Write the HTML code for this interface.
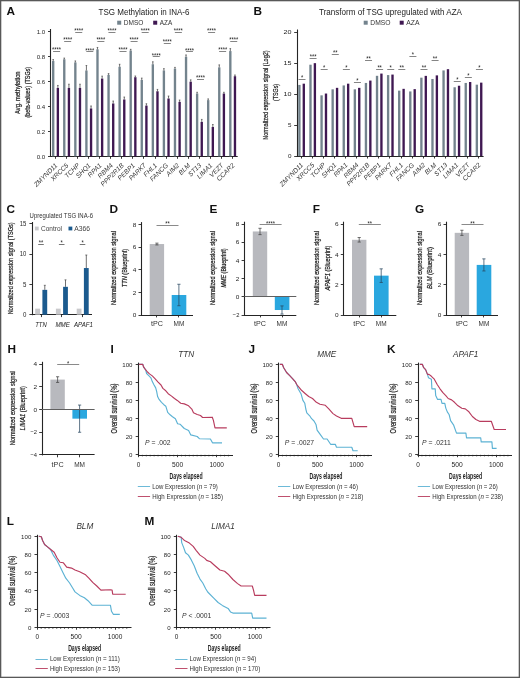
<!DOCTYPE html>
<html><head><meta charset="utf-8"><style>
html,body{margin:0;padding:0;background:#fff;}
body{width:520px;height:678px;overflow:hidden;}
svg{display:block;filter:blur(0.3px);font-family:"Liberation Sans", sans-serif;}
</style></head><body>
<svg width="520" height="678" viewBox="0 0 520 678" font-family='"Liberation Sans", sans-serif'>
<rect x="0" y="0" width="520" height="678" fill="#fff"/>
<text x="6.50" y="14.50" font-size="11.8" text-anchor="start" fill="#111" font-weight="bold" >A</text>
<text x="144.00" y="14.60" font-size="8.7" text-anchor="middle" fill="#222" textLength="91.00" lengthAdjust="spacingAndGlyphs" >TSG Methylation in INA-6</text>
<rect x="117.20" y="20.70" width="4.00" height="4.00" fill="#73838d"/>
<text x="123.80" y="25.00" font-size="6.8" text-anchor="start" fill="#333" textLength="19.60" lengthAdjust="spacingAndGlyphs" >DMSO</text>
<rect x="153.20" y="20.70" width="4.00" height="4.00" fill="#3f1852"/>
<text x="159.80" y="25.00" font-size="6.8" text-anchor="start" fill="#333" textLength="12.40" lengthAdjust="spacingAndGlyphs" >AZA</text>
<line x1="50.50" y1="29.00" x2="50.50" y2="156.90" stroke="#252525" stroke-width="1.1"/>
<line x1="50.30" y1="156.50" x2="237.70" y2="156.50" stroke="#252525" stroke-width="1.1"/>
<line x1="48.00" y1="156.50" x2="50.80" y2="156.50" stroke="#252525" stroke-width="0.9"/>
<text x="45.20" y="158.60" font-size="6.0" text-anchor="end" fill="#262626" textLength="8.50" lengthAdjust="spacingAndGlyphs" >0.0</text>
<line x1="48.00" y1="131.50" x2="50.80" y2="131.50" stroke="#252525" stroke-width="0.9"/>
<text x="45.20" y="133.70" font-size="6.0" text-anchor="end" fill="#262626" textLength="8.50" lengthAdjust="spacingAndGlyphs" >0.2</text>
<line x1="48.00" y1="106.50" x2="50.80" y2="106.50" stroke="#252525" stroke-width="0.9"/>
<text x="45.20" y="108.80" font-size="6.0" text-anchor="end" fill="#262626" textLength="8.50" lengthAdjust="spacingAndGlyphs" >0.4</text>
<line x1="48.00" y1="81.50" x2="50.80" y2="81.50" stroke="#252525" stroke-width="0.9"/>
<text x="45.20" y="83.90" font-size="6.0" text-anchor="end" fill="#262626" textLength="8.50" lengthAdjust="spacingAndGlyphs" >0.6</text>
<line x1="48.00" y1="56.50" x2="50.80" y2="56.50" stroke="#252525" stroke-width="0.9"/>
<text x="45.20" y="59.00" font-size="6.0" text-anchor="end" fill="#262626" textLength="8.50" lengthAdjust="spacingAndGlyphs" >0.8</text>
<line x1="48.00" y1="31.50" x2="50.80" y2="31.50" stroke="#252525" stroke-width="0.9"/>
<text x="45.20" y="34.10" font-size="6.0" text-anchor="end" fill="#262626" textLength="8.50" lengthAdjust="spacingAndGlyphs" >1.0</text>
<rect x="52.02" y="61.03" width="2.35" height="95.37" fill="#73838d"/>
<rect x="56.68" y="87.92" width="2.35" height="68.48" fill="#3f1852"/>
<line x1="53.20" y1="59.54" x2="53.20" y2="61.03" stroke="#333" stroke-width="0.7"/>
<line x1="52.40" y1="59.54" x2="54.00" y2="59.54" stroke="#333" stroke-width="0.6"/>
<line x1="57.85" y1="85.44" x2="57.85" y2="87.92" stroke="#333" stroke-width="0.7"/>
<line x1="57.05" y1="85.44" x2="58.65" y2="85.44" stroke="#333" stroke-width="0.6"/>
<line x1="55.50" y1="156.40" x2="55.50" y2="158.80" stroke="#252525" stroke-width="0.9"/>
<text x="56.60" y="52.40" font-size="7.4" text-anchor="middle" fill="#222" textLength="9.00" lengthAdjust="spacingAndGlyphs" >****</text>
<line x1="53.10" y1="51.50" x2="60.10" y2="51.50" stroke="#777" stroke-width="0.9"/>
<text x="57.90" y="165.80" font-size="6.6" text-anchor="end" fill="#333" font-style="italic" transform="rotate(-45 57.90 165.80)" >ZMYND11</text>
<rect x="63.09" y="59.29" width="2.35" height="97.11" fill="#73838d"/>
<rect x="67.75" y="87.92" width="2.35" height="68.48" fill="#3f1852"/>
<line x1="64.27" y1="58.05" x2="64.27" y2="59.29" stroke="#333" stroke-width="0.7"/>
<line x1="63.47" y1="58.05" x2="65.07" y2="58.05" stroke="#333" stroke-width="0.6"/>
<line x1="68.92" y1="84.19" x2="68.92" y2="87.92" stroke="#333" stroke-width="0.7"/>
<line x1="68.12" y1="84.19" x2="69.72" y2="84.19" stroke="#333" stroke-width="0.6"/>
<line x1="66.50" y1="156.40" x2="66.50" y2="158.80" stroke="#252525" stroke-width="0.9"/>
<text x="67.67" y="42.20" font-size="7.4" text-anchor="middle" fill="#222" textLength="9.00" lengthAdjust="spacingAndGlyphs" >****</text>
<line x1="64.17" y1="41.50" x2="71.17" y2="41.50" stroke="#777" stroke-width="0.9"/>
<text x="68.97" y="165.80" font-size="6.6" text-anchor="end" fill="#333" font-style="italic" transform="rotate(-45 68.97 165.80)" >XRCC5</text>
<rect x="74.16" y="62.40" width="2.35" height="94.00" fill="#73838d"/>
<rect x="78.81" y="87.92" width="2.35" height="68.48" fill="#3f1852"/>
<line x1="75.34" y1="60.91" x2="75.34" y2="62.40" stroke="#333" stroke-width="0.7"/>
<line x1="74.54" y1="60.91" x2="76.14" y2="60.91" stroke="#333" stroke-width="0.6"/>
<line x1="79.99" y1="84.19" x2="79.99" y2="87.92" stroke="#333" stroke-width="0.7"/>
<line x1="79.19" y1="84.19" x2="80.79" y2="84.19" stroke="#333" stroke-width="0.6"/>
<line x1="77.50" y1="156.40" x2="77.50" y2="158.80" stroke="#252525" stroke-width="0.9"/>
<text x="78.74" y="33.10" font-size="7.4" text-anchor="middle" fill="#222" textLength="9.00" lengthAdjust="spacingAndGlyphs" >****</text>
<line x1="75.24" y1="32.50" x2="82.24" y2="32.50" stroke="#777" stroke-width="0.9"/>
<text x="80.04" y="165.80" font-size="6.6" text-anchor="end" fill="#333" font-style="italic" transform="rotate(-45 80.04 165.80)" >TCHP</text>
<rect x="85.23" y="70.50" width="2.35" height="85.90" fill="#73838d"/>
<rect x="89.89" y="108.47" width="2.35" height="47.93" fill="#3f1852"/>
<line x1="86.41" y1="65.52" x2="86.41" y2="70.50" stroke="#333" stroke-width="0.7"/>
<line x1="85.61" y1="65.52" x2="87.21" y2="65.52" stroke="#333" stroke-width="0.6"/>
<line x1="91.06" y1="105.98" x2="91.06" y2="108.47" stroke="#333" stroke-width="0.7"/>
<line x1="90.26" y1="105.98" x2="91.86" y2="105.98" stroke="#333" stroke-width="0.6"/>
<line x1="88.50" y1="156.40" x2="88.50" y2="158.80" stroke="#252525" stroke-width="0.9"/>
<text x="89.81" y="52.50" font-size="7.4" text-anchor="middle" fill="#222" textLength="9.00" lengthAdjust="spacingAndGlyphs" >****</text>
<line x1="86.31" y1="51.50" x2="93.31" y2="51.50" stroke="#777" stroke-width="0.9"/>
<text x="91.11" y="165.80" font-size="6.6" text-anchor="end" fill="#333" font-style="italic" transform="rotate(-45 91.11 165.80)" >SHQ1</text>
<rect x="96.31" y="49.33" width="2.35" height="107.07" fill="#73838d"/>
<rect x="100.96" y="78.59" width="2.35" height="77.81" fill="#3f1852"/>
<line x1="97.48" y1="47.46" x2="97.48" y2="49.33" stroke="#333" stroke-width="0.7"/>
<line x1="96.68" y1="47.46" x2="98.28" y2="47.46" stroke="#333" stroke-width="0.6"/>
<line x1="102.13" y1="76.10" x2="102.13" y2="78.59" stroke="#333" stroke-width="0.7"/>
<line x1="101.33" y1="76.10" x2="102.93" y2="76.10" stroke="#333" stroke-width="0.6"/>
<line x1="99.50" y1="156.40" x2="99.50" y2="158.80" stroke="#252525" stroke-width="0.9"/>
<text x="100.88" y="42.20" font-size="7.4" text-anchor="middle" fill="#222" textLength="9.00" lengthAdjust="spacingAndGlyphs" >****</text>
<line x1="97.38" y1="41.50" x2="104.38" y2="41.50" stroke="#777" stroke-width="0.9"/>
<text x="102.18" y="165.80" font-size="6.6" text-anchor="end" fill="#333" font-style="italic" transform="rotate(-45 102.18 165.80)" >RPA1</text>
<rect x="107.38" y="74.85" width="2.35" height="81.55" fill="#73838d"/>
<rect x="112.03" y="103.49" width="2.35" height="52.91" fill="#3f1852"/>
<line x1="108.55" y1="73.61" x2="108.55" y2="74.85" stroke="#333" stroke-width="0.7"/>
<line x1="107.75" y1="73.61" x2="109.35" y2="73.61" stroke="#333" stroke-width="0.6"/>
<line x1="113.20" y1="101.00" x2="113.20" y2="103.49" stroke="#333" stroke-width="0.7"/>
<line x1="112.40" y1="101.00" x2="114.00" y2="101.00" stroke="#333" stroke-width="0.6"/>
<line x1="110.50" y1="156.40" x2="110.50" y2="158.80" stroke="#252525" stroke-width="0.9"/>
<text x="111.95" y="33.10" font-size="7.4" text-anchor="middle" fill="#222" textLength="9.00" lengthAdjust="spacingAndGlyphs" >****</text>
<line x1="108.45" y1="32.50" x2="115.45" y2="32.50" stroke="#777" stroke-width="0.9"/>
<text x="113.25" y="165.80" font-size="6.6" text-anchor="end" fill="#333" font-style="italic" transform="rotate(-45 113.25 165.80)" >RBM4</text>
<rect x="118.44" y="66.76" width="2.35" height="89.64" fill="#73838d"/>
<rect x="123.09" y="99.50" width="2.35" height="56.90" fill="#3f1852"/>
<line x1="119.62" y1="64.27" x2="119.62" y2="66.76" stroke="#333" stroke-width="0.7"/>
<line x1="118.82" y1="64.27" x2="120.42" y2="64.27" stroke="#333" stroke-width="0.6"/>
<line x1="124.27" y1="97.01" x2="124.27" y2="99.50" stroke="#333" stroke-width="0.7"/>
<line x1="123.47" y1="97.01" x2="125.07" y2="97.01" stroke="#333" stroke-width="0.6"/>
<line x1="121.50" y1="156.40" x2="121.50" y2="158.80" stroke="#252525" stroke-width="0.9"/>
<text x="123.02" y="52.40" font-size="7.4" text-anchor="middle" fill="#222" textLength="9.00" lengthAdjust="spacingAndGlyphs" >****</text>
<line x1="119.52" y1="51.50" x2="126.52" y2="51.50" stroke="#777" stroke-width="0.9"/>
<text x="124.32" y="165.80" font-size="6.6" text-anchor="end" fill="#333" font-style="italic" transform="rotate(-45 124.32 165.80)" >PPP2R1B</text>
<rect x="129.52" y="50.58" width="2.35" height="105.83" fill="#73838d"/>
<rect x="134.16" y="77.22" width="2.35" height="79.18" fill="#3f1852"/>
<line x1="130.69" y1="49.33" x2="130.69" y2="50.58" stroke="#333" stroke-width="0.7"/>
<line x1="129.89" y1="49.33" x2="131.49" y2="49.33" stroke="#333" stroke-width="0.6"/>
<line x1="135.34" y1="75.97" x2="135.34" y2="77.22" stroke="#333" stroke-width="0.7"/>
<line x1="134.54" y1="75.97" x2="136.14" y2="75.97" stroke="#333" stroke-width="0.6"/>
<line x1="132.50" y1="156.40" x2="132.50" y2="158.80" stroke="#252525" stroke-width="0.9"/>
<text x="134.09" y="42.20" font-size="7.4" text-anchor="middle" fill="#222" textLength="9.00" lengthAdjust="spacingAndGlyphs" >****</text>
<line x1="130.59" y1="41.50" x2="137.59" y2="41.50" stroke="#777" stroke-width="0.9"/>
<text x="135.39" y="165.80" font-size="6.6" text-anchor="end" fill="#333" font-style="italic" transform="rotate(-45 135.39 165.80)" >PEBP1</text>
<rect x="140.59" y="79.96" width="2.35" height="76.44" fill="#73838d"/>
<rect x="145.23" y="105.60" width="2.35" height="50.80" fill="#3f1852"/>
<line x1="141.76" y1="78.09" x2="141.76" y2="79.96" stroke="#333" stroke-width="0.7"/>
<line x1="140.96" y1="78.09" x2="142.56" y2="78.09" stroke="#333" stroke-width="0.6"/>
<line x1="146.41" y1="103.74" x2="146.41" y2="105.60" stroke="#333" stroke-width="0.7"/>
<line x1="145.61" y1="103.74" x2="147.21" y2="103.74" stroke="#333" stroke-width="0.6"/>
<line x1="143.50" y1="156.40" x2="143.50" y2="158.80" stroke="#252525" stroke-width="0.9"/>
<text x="145.16" y="33.10" font-size="7.4" text-anchor="middle" fill="#222" textLength="9.00" lengthAdjust="spacingAndGlyphs" >****</text>
<line x1="141.66" y1="32.50" x2="148.66" y2="32.50" stroke="#777" stroke-width="0.9"/>
<text x="146.46" y="165.80" font-size="6.6" text-anchor="end" fill="#333" font-style="italic" transform="rotate(-45 146.46 165.80)" >PARK7</text>
<rect x="151.66" y="64.27" width="2.35" height="92.13" fill="#73838d"/>
<rect x="156.30" y="91.29" width="2.35" height="65.11" fill="#3f1852"/>
<line x1="152.83" y1="61.78" x2="152.83" y2="64.27" stroke="#333" stroke-width="0.7"/>
<line x1="152.03" y1="61.78" x2="153.63" y2="61.78" stroke="#333" stroke-width="0.6"/>
<line x1="157.48" y1="89.42" x2="157.48" y2="91.29" stroke="#333" stroke-width="0.7"/>
<line x1="156.68" y1="89.42" x2="158.28" y2="89.42" stroke="#333" stroke-width="0.6"/>
<line x1="155.50" y1="156.40" x2="155.50" y2="158.80" stroke="#252525" stroke-width="0.9"/>
<text x="156.23" y="57.60" font-size="7.4" text-anchor="middle" fill="#222" textLength="9.00" lengthAdjust="spacingAndGlyphs" >****</text>
<line x1="152.73" y1="56.50" x2="159.73" y2="56.50" stroke="#777" stroke-width="0.9"/>
<text x="157.53" y="165.80" font-size="6.6" text-anchor="end" fill="#333" font-style="italic" transform="rotate(-45 157.53 165.80)" >FHL1</text>
<rect x="162.72" y="70.50" width="2.35" height="85.90" fill="#73838d"/>
<rect x="167.37" y="98.51" width="2.35" height="57.89" fill="#3f1852"/>
<line x1="163.90" y1="68.63" x2="163.90" y2="70.50" stroke="#333" stroke-width="0.7"/>
<line x1="163.10" y1="68.63" x2="164.70" y2="68.63" stroke="#333" stroke-width="0.6"/>
<line x1="168.55" y1="96.02" x2="168.55" y2="98.51" stroke="#333" stroke-width="0.7"/>
<line x1="167.75" y1="96.02" x2="169.35" y2="96.02" stroke="#333" stroke-width="0.6"/>
<line x1="166.50" y1="156.40" x2="166.50" y2="158.80" stroke="#252525" stroke-width="0.9"/>
<text x="167.30" y="44.30" font-size="7.4" text-anchor="middle" fill="#222" textLength="9.00" lengthAdjust="spacingAndGlyphs" >****</text>
<line x1="163.80" y1="43.50" x2="170.80" y2="43.50" stroke="#777" stroke-width="0.9"/>
<text x="168.60" y="165.80" font-size="6.6" text-anchor="end" fill="#333" font-style="italic" transform="rotate(-45 168.60 165.80)" >FANCG</text>
<rect x="173.80" y="68.63" width="2.35" height="87.77" fill="#73838d"/>
<rect x="178.44" y="101.87" width="2.35" height="54.53" fill="#3f1852"/>
<line x1="174.97" y1="67.38" x2="174.97" y2="68.63" stroke="#333" stroke-width="0.7"/>
<line x1="174.17" y1="67.38" x2="175.77" y2="67.38" stroke="#333" stroke-width="0.6"/>
<line x1="179.62" y1="100.00" x2="179.62" y2="101.87" stroke="#333" stroke-width="0.7"/>
<line x1="178.82" y1="100.00" x2="180.42" y2="100.00" stroke="#333" stroke-width="0.6"/>
<line x1="177.50" y1="156.40" x2="177.50" y2="158.80" stroke="#252525" stroke-width="0.9"/>
<text x="178.37" y="33.10" font-size="7.4" text-anchor="middle" fill="#222" textLength="9.00" lengthAdjust="spacingAndGlyphs" >****</text>
<line x1="174.87" y1="32.50" x2="181.87" y2="32.50" stroke="#777" stroke-width="0.9"/>
<text x="179.67" y="165.80" font-size="6.6" text-anchor="end" fill="#333" font-style="italic" transform="rotate(-45 179.67 165.80)" >AIM2</text>
<rect x="184.87" y="56.80" width="2.35" height="99.60" fill="#73838d"/>
<rect x="189.51" y="81.70" width="2.35" height="74.70" fill="#3f1852"/>
<line x1="186.04" y1="54.93" x2="186.04" y2="56.80" stroke="#333" stroke-width="0.7"/>
<line x1="185.24" y1="54.93" x2="186.84" y2="54.93" stroke="#333" stroke-width="0.6"/>
<line x1="190.69" y1="79.83" x2="190.69" y2="81.70" stroke="#333" stroke-width="0.7"/>
<line x1="189.89" y1="79.83" x2="191.49" y2="79.83" stroke="#333" stroke-width="0.6"/>
<line x1="188.50" y1="156.40" x2="188.50" y2="158.80" stroke="#252525" stroke-width="0.9"/>
<text x="189.44" y="52.60" font-size="7.4" text-anchor="middle" fill="#222" textLength="9.00" lengthAdjust="spacingAndGlyphs" >****</text>
<line x1="185.94" y1="51.50" x2="192.94" y2="51.50" stroke="#777" stroke-width="0.9"/>
<text x="190.74" y="165.80" font-size="6.6" text-anchor="end" fill="#333" font-style="italic" transform="rotate(-45 190.74 165.80)" >BLM</text>
<rect x="195.94" y="93.53" width="2.35" height="62.87" fill="#73838d"/>
<rect x="200.58" y="121.91" width="2.35" height="34.49" fill="#3f1852"/>
<line x1="197.11" y1="92.28" x2="197.11" y2="93.53" stroke="#333" stroke-width="0.7"/>
<line x1="196.31" y1="92.28" x2="197.91" y2="92.28" stroke="#333" stroke-width="0.6"/>
<line x1="201.76" y1="119.42" x2="201.76" y2="121.91" stroke="#333" stroke-width="0.7"/>
<line x1="200.96" y1="119.42" x2="202.56" y2="119.42" stroke="#333" stroke-width="0.6"/>
<line x1="199.50" y1="156.40" x2="199.50" y2="158.80" stroke="#252525" stroke-width="0.9"/>
<text x="200.51" y="80.10" font-size="7.4" text-anchor="middle" fill="#222" textLength="9.00" lengthAdjust="spacingAndGlyphs" >****</text>
<line x1="197.01" y1="79.50" x2="204.01" y2="79.50" stroke="#777" stroke-width="0.9"/>
<text x="201.81" y="165.80" font-size="6.6" text-anchor="end" fill="#333" font-style="italic" transform="rotate(-45 201.81 165.80)" >ST13</text>
<rect x="207.01" y="100.13" width="2.35" height="56.27" fill="#73838d"/>
<rect x="211.66" y="127.02" width="2.35" height="29.38" fill="#3f1852"/>
<line x1="208.18" y1="98.88" x2="208.18" y2="100.13" stroke="#333" stroke-width="0.7"/>
<line x1="207.38" y1="98.88" x2="208.98" y2="98.88" stroke="#333" stroke-width="0.6"/>
<line x1="212.83" y1="124.53" x2="212.83" y2="127.02" stroke="#333" stroke-width="0.7"/>
<line x1="212.03" y1="124.53" x2="213.63" y2="124.53" stroke="#333" stroke-width="0.6"/>
<line x1="210.50" y1="156.40" x2="210.50" y2="158.80" stroke="#252525" stroke-width="0.9"/>
<text x="211.58" y="33.10" font-size="7.4" text-anchor="middle" fill="#222" textLength="9.00" lengthAdjust="spacingAndGlyphs" >****</text>
<line x1="208.08" y1="32.50" x2="215.08" y2="32.50" stroke="#777" stroke-width="0.9"/>
<text x="212.88" y="165.80" font-size="6.6" text-anchor="end" fill="#333" font-style="italic" transform="rotate(-45 212.88 165.80)" >LIMA1</text>
<rect x="218.08" y="67.38" width="2.35" height="89.02" fill="#73838d"/>
<rect x="222.72" y="93.53" width="2.35" height="62.87" fill="#3f1852"/>
<line x1="219.25" y1="64.89" x2="219.25" y2="67.38" stroke="#333" stroke-width="0.7"/>
<line x1="218.45" y1="64.89" x2="220.05" y2="64.89" stroke="#333" stroke-width="0.6"/>
<line x1="223.90" y1="92.28" x2="223.90" y2="93.53" stroke="#333" stroke-width="0.7"/>
<line x1="223.10" y1="92.28" x2="224.70" y2="92.28" stroke="#333" stroke-width="0.6"/>
<line x1="221.50" y1="156.40" x2="221.50" y2="158.80" stroke="#252525" stroke-width="0.9"/>
<text x="222.65" y="52.40" font-size="7.4" text-anchor="middle" fill="#222" textLength="9.00" lengthAdjust="spacingAndGlyphs" >****</text>
<line x1="219.15" y1="51.50" x2="226.15" y2="51.50" stroke="#777" stroke-width="0.9"/>
<text x="223.95" y="165.80" font-size="6.6" text-anchor="end" fill="#333" font-style="italic" transform="rotate(-45 223.95 165.80)" >VEZT</text>
<rect x="229.15" y="51.07" width="2.35" height="105.33" fill="#73838d"/>
<rect x="233.79" y="76.22" width="2.35" height="80.18" fill="#3f1852"/>
<line x1="230.32" y1="48.58" x2="230.32" y2="51.07" stroke="#333" stroke-width="0.7"/>
<line x1="229.52" y1="48.58" x2="231.12" y2="48.58" stroke="#333" stroke-width="0.6"/>
<line x1="234.97" y1="74.98" x2="234.97" y2="76.22" stroke="#333" stroke-width="0.7"/>
<line x1="234.17" y1="74.98" x2="235.77" y2="74.98" stroke="#333" stroke-width="0.6"/>
<line x1="232.50" y1="156.40" x2="232.50" y2="158.80" stroke="#252525" stroke-width="0.9"/>
<text x="233.72" y="42.20" font-size="7.4" text-anchor="middle" fill="#222" textLength="9.00" lengthAdjust="spacingAndGlyphs" >****</text>
<line x1="230.22" y1="41.50" x2="237.22" y2="41.50" stroke="#777" stroke-width="0.9"/>
<text x="235.02" y="165.80" font-size="6.6" text-anchor="end" fill="#333" font-style="italic" transform="rotate(-45 235.02 165.80)" >CCAR2</text>
<text x="20.30" y="92.70" font-size="7.8" text-anchor="middle" fill="#1a1a1a" textLength="42.50" lengthAdjust="spacingAndGlyphs" transform="rotate(-90 20.30 92.70)" stroke="#1a1a1a" stroke-width="0.22">Avg. methylation</text>
<text x="30.30" y="92.20" font-size="7.8" text-anchor="middle" fill="#1a1a1a" textLength="50.80" lengthAdjust="spacingAndGlyphs" transform="rotate(-90 30.30 92.20)" stroke="#1a1a1a" stroke-width="0.22">(beta-values) (TSGs)</text>
<text x="253.60" y="14.50" font-size="11.8" text-anchor="start" fill="#111" font-weight="bold" >B</text>
<text x="390.50" y="14.60" font-size="8.7" text-anchor="middle" fill="#222" textLength="143.00" lengthAdjust="spacingAndGlyphs" >Transform of TSG upregulated with AZA</text>
<rect x="363.70" y="20.70" width="4.00" height="4.00" fill="#73838d"/>
<text x="370.30" y="25.00" font-size="6.8" text-anchor="start" fill="#333" textLength="20.20" lengthAdjust="spacingAndGlyphs" >DMSO</text>
<rect x="399.70" y="20.70" width="4.00" height="4.00" fill="#3f1852"/>
<text x="406.30" y="25.00" font-size="6.8" text-anchor="start" fill="#333" textLength="13.20" lengthAdjust="spacingAndGlyphs" >AZA</text>
<line x1="297.50" y1="29.50" x2="297.50" y2="156.60" stroke="#252525" stroke-width="1.1"/>
<line x1="296.50" y1="156.50" x2="483.60" y2="156.50" stroke="#252525" stroke-width="1.1"/>
<line x1="294.20" y1="156.50" x2="297.00" y2="156.50" stroke="#252525" stroke-width="0.9"/>
<text x="291.60" y="158.20" font-size="6" text-anchor="end" fill="#262626" textLength="3.50" lengthAdjust="spacingAndGlyphs" >0</text>
<line x1="294.20" y1="125.50" x2="297.00" y2="125.50" stroke="#252525" stroke-width="0.9"/>
<text x="291.60" y="127.20" font-size="6" text-anchor="end" fill="#262626" textLength="3.50" lengthAdjust="spacingAndGlyphs" >5</text>
<line x1="294.20" y1="94.50" x2="297.00" y2="94.50" stroke="#252525" stroke-width="0.9"/>
<text x="291.60" y="96.20" font-size="6" text-anchor="end" fill="#262626" textLength="8.00" lengthAdjust="spacingAndGlyphs" >10</text>
<line x1="294.20" y1="63.50" x2="297.00" y2="63.50" stroke="#252525" stroke-width="0.9"/>
<text x="291.60" y="65.20" font-size="6" text-anchor="end" fill="#262626" textLength="8.00" lengthAdjust="spacingAndGlyphs" >15</text>
<line x1="294.20" y1="32.50" x2="297.00" y2="32.50" stroke="#252525" stroke-width="0.9"/>
<text x="291.60" y="34.20" font-size="6" text-anchor="end" fill="#262626" textLength="8.00" lengthAdjust="spacingAndGlyphs" >20</text>
<rect x="298.22" y="84.92" width="2.35" height="71.18" fill="#73838d"/>
<rect x="302.62" y="83.68" width="2.35" height="72.42" fill="#3f1852"/>
<line x1="301.50" y1="156.10" x2="301.50" y2="158.50" stroke="#252525" stroke-width="0.9"/>
<text x="303.70" y="165.50" font-size="6.6" text-anchor="end" fill="#333" font-style="italic" transform="rotate(-45 303.70 165.50)" >ZMYND11</text>
<text x="302.00" y="79.90" font-size="7.4" text-anchor="middle" fill="#222" textLength="2.25" lengthAdjust="spacingAndGlyphs" >*</text>
<line x1="298.50" y1="79.50" x2="305.50" y2="79.50" stroke="#777" stroke-width="0.9"/>
<rect x="309.31" y="64.71" width="2.35" height="91.39" fill="#73838d"/>
<rect x="313.71" y="63.16" width="2.35" height="92.94" fill="#3f1852"/>
<line x1="312.50" y1="156.10" x2="312.50" y2="158.50" stroke="#252525" stroke-width="0.9"/>
<text x="314.79" y="165.50" font-size="6.6" text-anchor="end" fill="#333" font-style="italic" transform="rotate(-45 314.79 165.50)" >XRCC5</text>
<text x="313.09" y="59.30" font-size="7.4" text-anchor="middle" fill="#222" textLength="6.75" lengthAdjust="spacingAndGlyphs" >***</text>
<line x1="309.59" y1="58.50" x2="316.59" y2="58.50" stroke="#777" stroke-width="0.9"/>
<rect x="320.40" y="95.34" width="2.35" height="60.76" fill="#73838d"/>
<rect x="324.81" y="93.54" width="2.35" height="62.56" fill="#3f1852"/>
<line x1="323.50" y1="156.10" x2="323.50" y2="158.50" stroke="#252525" stroke-width="0.9"/>
<text x="325.88" y="165.50" font-size="6.6" text-anchor="end" fill="#333" font-style="italic" transform="rotate(-45 325.88 165.50)" >TCHP</text>
<text x="324.18" y="69.90" font-size="7.4" text-anchor="middle" fill="#222" textLength="2.25" lengthAdjust="spacingAndGlyphs" >*</text>
<line x1="320.68" y1="69.50" x2="327.68" y2="69.50" stroke="#777" stroke-width="0.9"/>
<rect x="331.49" y="89.33" width="2.35" height="66.77" fill="#73838d"/>
<rect x="335.89" y="87.84" width="2.35" height="68.26" fill="#3f1852"/>
<line x1="334.50" y1="156.10" x2="334.50" y2="158.50" stroke="#252525" stroke-width="0.9"/>
<text x="336.97" y="165.50" font-size="6.6" text-anchor="end" fill="#333" font-style="italic" transform="rotate(-45 336.97 165.50)" >SHQ1</text>
<text x="335.27" y="54.50" font-size="7.4" text-anchor="middle" fill="#222" textLength="4.50" lengthAdjust="spacingAndGlyphs" >**</text>
<line x1="331.77" y1="54.50" x2="338.77" y2="54.50" stroke="#777" stroke-width="0.9"/>
<rect x="342.58" y="85.42" width="2.35" height="70.68" fill="#73838d"/>
<rect x="346.99" y="83.68" width="2.35" height="72.42" fill="#3f1852"/>
<line x1="345.50" y1="156.10" x2="345.50" y2="158.50" stroke="#252525" stroke-width="0.9"/>
<text x="348.06" y="165.50" font-size="6.6" text-anchor="end" fill="#333" font-style="italic" transform="rotate(-45 348.06 165.50)" >RPA1</text>
<text x="346.36" y="69.90" font-size="7.4" text-anchor="middle" fill="#222" textLength="2.25" lengthAdjust="spacingAndGlyphs" >*</text>
<line x1="342.86" y1="69.50" x2="349.86" y2="69.50" stroke="#777" stroke-width="0.9"/>
<rect x="353.67" y="89.33" width="2.35" height="66.77" fill="#73838d"/>
<rect x="358.07" y="87.84" width="2.35" height="68.26" fill="#3f1852"/>
<line x1="356.50" y1="156.10" x2="356.50" y2="158.50" stroke="#252525" stroke-width="0.9"/>
<text x="359.15" y="165.50" font-size="6.6" text-anchor="end" fill="#333" font-style="italic" transform="rotate(-45 359.15 165.50)" >RBM4</text>
<text x="357.45" y="83.30" font-size="7.4" text-anchor="middle" fill="#222" textLength="2.25" lengthAdjust="spacingAndGlyphs" >*</text>
<line x1="353.95" y1="82.50" x2="360.95" y2="82.50" stroke="#777" stroke-width="0.9"/>
<rect x="364.76" y="82.94" width="2.35" height="73.16" fill="#73838d"/>
<rect x="369.17" y="80.58" width="2.35" height="75.52" fill="#3f1852"/>
<line x1="367.50" y1="156.10" x2="367.50" y2="158.50" stroke="#252525" stroke-width="0.9"/>
<text x="370.24" y="165.50" font-size="6.6" text-anchor="end" fill="#333" font-style="italic" transform="rotate(-45 370.24 165.50)" >PPP2R1B</text>
<text x="368.54" y="61.20" font-size="7.4" text-anchor="middle" fill="#222" textLength="4.50" lengthAdjust="spacingAndGlyphs" >**</text>
<line x1="365.04" y1="60.50" x2="372.04" y2="60.50" stroke="#777" stroke-width="0.9"/>
<rect x="375.85" y="75.81" width="2.35" height="80.29" fill="#73838d"/>
<rect x="380.25" y="73.58" width="2.35" height="82.52" fill="#3f1852"/>
<line x1="378.50" y1="156.10" x2="378.50" y2="158.50" stroke="#252525" stroke-width="0.9"/>
<text x="381.33" y="165.50" font-size="6.6" text-anchor="end" fill="#333" font-style="italic" transform="rotate(-45 381.33 165.50)" >PEBP1</text>
<text x="379.63" y="69.90" font-size="7.4" text-anchor="middle" fill="#222" textLength="4.50" lengthAdjust="spacingAndGlyphs" >**</text>
<line x1="376.13" y1="69.50" x2="383.13" y2="69.50" stroke="#777" stroke-width="0.9"/>
<rect x="386.94" y="75.07" width="2.35" height="81.03" fill="#73838d"/>
<rect x="391.34" y="74.57" width="2.35" height="81.53" fill="#3f1852"/>
<line x1="389.50" y1="156.10" x2="389.50" y2="158.50" stroke="#252525" stroke-width="0.9"/>
<text x="392.42" y="165.50" font-size="6.6" text-anchor="end" fill="#333" font-style="italic" transform="rotate(-45 392.42 165.50)" >PARK7</text>
<text x="390.72" y="69.90" font-size="7.4" text-anchor="middle" fill="#222" textLength="2.25" lengthAdjust="spacingAndGlyphs" >*</text>
<line x1="387.22" y1="69.50" x2="394.22" y2="69.50" stroke="#777" stroke-width="0.9"/>
<rect x="398.03" y="90.63" width="2.35" height="65.47" fill="#73838d"/>
<rect x="402.44" y="88.83" width="2.35" height="67.27" fill="#3f1852"/>
<line x1="401.50" y1="156.10" x2="401.50" y2="158.50" stroke="#252525" stroke-width="0.9"/>
<text x="403.51" y="165.50" font-size="6.6" text-anchor="end" fill="#333" font-style="italic" transform="rotate(-45 403.51 165.50)" >FHL1</text>
<text x="401.81" y="69.90" font-size="7.4" text-anchor="middle" fill="#222" textLength="4.50" lengthAdjust="spacingAndGlyphs" >**</text>
<line x1="398.31" y1="69.50" x2="405.31" y2="69.50" stroke="#777" stroke-width="0.9"/>
<rect x="409.12" y="91.43" width="2.35" height="64.67" fill="#73838d"/>
<rect x="413.53" y="89.14" width="2.35" height="66.96" fill="#3f1852"/>
<line x1="412.50" y1="156.10" x2="412.50" y2="158.50" stroke="#252525" stroke-width="0.9"/>
<text x="414.60" y="165.50" font-size="6.6" text-anchor="end" fill="#333" font-style="italic" transform="rotate(-45 414.60 165.50)" >FANCG</text>
<text x="412.90" y="57.40" font-size="7.4" text-anchor="middle" fill="#222" textLength="2.25" lengthAdjust="spacingAndGlyphs" >*</text>
<line x1="409.40" y1="56.50" x2="416.40" y2="56.50" stroke="#777" stroke-width="0.9"/>
<rect x="420.21" y="77.67" width="2.35" height="78.43" fill="#73838d"/>
<rect x="424.62" y="75.87" width="2.35" height="80.23" fill="#3f1852"/>
<line x1="423.50" y1="156.10" x2="423.50" y2="158.50" stroke="#252525" stroke-width="0.9"/>
<text x="425.69" y="165.50" font-size="6.6" text-anchor="end" fill="#333" font-style="italic" transform="rotate(-45 425.69 165.50)" >AIM2</text>
<text x="423.99" y="69.90" font-size="7.4" text-anchor="middle" fill="#222" textLength="4.50" lengthAdjust="spacingAndGlyphs" >**</text>
<line x1="420.49" y1="69.50" x2="427.49" y2="69.50" stroke="#777" stroke-width="0.9"/>
<rect x="431.30" y="78.97" width="2.35" height="77.13" fill="#73838d"/>
<rect x="435.70" y="75.38" width="2.35" height="80.72" fill="#3f1852"/>
<line x1="434.50" y1="156.10" x2="434.50" y2="158.50" stroke="#252525" stroke-width="0.9"/>
<text x="436.78" y="165.50" font-size="6.6" text-anchor="end" fill="#333" font-style="italic" transform="rotate(-45 436.78 165.50)" >BLM</text>
<text x="435.08" y="61.20" font-size="7.4" text-anchor="middle" fill="#222" textLength="4.50" lengthAdjust="spacingAndGlyphs" >**</text>
<line x1="431.58" y1="60.50" x2="438.58" y2="60.50" stroke="#777" stroke-width="0.9"/>
<rect x="442.39" y="70.42" width="2.35" height="85.68" fill="#73838d"/>
<rect x="446.80" y="69.18" width="2.35" height="86.92" fill="#3f1852"/>
<line x1="445.50" y1="156.10" x2="445.50" y2="158.50" stroke="#252525" stroke-width="0.9"/>
<text x="447.87" y="165.50" font-size="6.6" text-anchor="end" fill="#333" font-style="italic" transform="rotate(-45 447.87 165.50)" >ST13</text>
<rect x="453.48" y="87.28" width="2.35" height="68.82" fill="#73838d"/>
<rect x="457.88" y="85.73" width="2.35" height="70.37" fill="#3f1852"/>
<line x1="456.50" y1="156.10" x2="456.50" y2="158.50" stroke="#252525" stroke-width="0.9"/>
<text x="458.96" y="165.50" font-size="6.6" text-anchor="end" fill="#333" font-style="italic" transform="rotate(-45 458.96 165.50)" >LIMA1</text>
<text x="457.26" y="81.80" font-size="7.4" text-anchor="middle" fill="#222" textLength="2.25" lengthAdjust="spacingAndGlyphs" >*</text>
<line x1="453.76" y1="81.50" x2="460.76" y2="81.50" stroke="#777" stroke-width="0.9"/>
<rect x="464.57" y="82.94" width="2.35" height="73.16" fill="#73838d"/>
<rect x="468.97" y="82.01" width="2.35" height="74.09" fill="#3f1852"/>
<line x1="467.50" y1="156.10" x2="467.50" y2="158.50" stroke="#252525" stroke-width="0.9"/>
<text x="470.05" y="165.50" font-size="6.6" text-anchor="end" fill="#333" font-style="italic" transform="rotate(-45 470.05 165.50)" >VEZT</text>
<text x="468.35" y="77.60" font-size="7.4" text-anchor="middle" fill="#222" textLength="2.25" lengthAdjust="spacingAndGlyphs" >*</text>
<line x1="464.85" y1="77.50" x2="471.85" y2="77.50" stroke="#777" stroke-width="0.9"/>
<rect x="475.66" y="84.68" width="2.35" height="71.42" fill="#73838d"/>
<rect x="480.06" y="82.63" width="2.35" height="73.47" fill="#3f1852"/>
<line x1="478.50" y1="156.10" x2="478.50" y2="158.50" stroke="#252525" stroke-width="0.9"/>
<text x="481.14" y="165.50" font-size="6.6" text-anchor="end" fill="#333" font-style="italic" transform="rotate(-45 481.14 165.50)" >CCAR2</text>
<text x="479.44" y="69.90" font-size="7.4" text-anchor="middle" fill="#222" textLength="2.25" lengthAdjust="spacingAndGlyphs" >*</text>
<line x1="475.94" y1="69.50" x2="482.94" y2="69.50" stroke="#777" stroke-width="0.9"/>
<text x="268.10" y="95.10" font-size="7.8" text-anchor="middle" fill="#1a1a1a" textLength="89.50" lengthAdjust="spacingAndGlyphs" transform="rotate(-90 268.10 95.10)" stroke="#1a1a1a" stroke-width="0.22">Normalized expression signal (Log2)</text>
<text x="277.80" y="92.40" font-size="7.8" text-anchor="middle" fill="#1a1a1a" textLength="17.00" lengthAdjust="spacingAndGlyphs" transform="rotate(-90 277.80 92.40)" stroke="#1a1a1a" stroke-width="0.22">(TSGs)</text>
<text x="6.50" y="212.90" font-size="11.8" text-anchor="start" fill="#111" font-weight="bold" >C</text>
<text x="61.30" y="217.80" font-size="6.8" text-anchor="middle" fill="#333" textLength="63.40" lengthAdjust="spacingAndGlyphs" >Upregulated TSG INA-6</text>
<rect x="34.90" y="226.60" width="3.80" height="3.80" fill="#c9c9cc"/>
<text x="41.00" y="230.60" font-size="6.6" text-anchor="start" fill="#444" textLength="21.00" lengthAdjust="spacingAndGlyphs" >Control</text>
<rect x="68.50" y="226.60" width="3.80" height="3.80" fill="#1b5a8e"/>
<text x="74.20" y="230.60" font-size="6.6" text-anchor="start" fill="#444" textLength="15.80" lengthAdjust="spacingAndGlyphs" >A366</text>
<line x1="32.50" y1="222.00" x2="32.50" y2="315.20" stroke="#252525" stroke-width="1.1"/>
<line x1="31.70" y1="314.50" x2="92.00" y2="314.50" stroke="#252525" stroke-width="1.1"/>
<line x1="29.40" y1="314.50" x2="32.20" y2="314.50" stroke="#252525" stroke-width="0.9"/>
<text x="26.40" y="316.90" font-size="6.4" text-anchor="end" fill="#262626" textLength="3.40" lengthAdjust="spacingAndGlyphs" >0</text>
<line x1="29.40" y1="284.50" x2="32.20" y2="284.50" stroke="#252525" stroke-width="0.9"/>
<text x="26.40" y="286.60" font-size="6.4" text-anchor="end" fill="#262626" textLength="3.40" lengthAdjust="spacingAndGlyphs" >5</text>
<line x1="29.40" y1="254.50" x2="32.20" y2="254.50" stroke="#252525" stroke-width="0.9"/>
<text x="26.40" y="256.30" font-size="6.4" text-anchor="end" fill="#262626" textLength="6.60" lengthAdjust="spacingAndGlyphs" >10</text>
<line x1="29.40" y1="223.50" x2="32.20" y2="223.50" stroke="#252525" stroke-width="0.9"/>
<text x="26.40" y="226.00" font-size="6.4" text-anchor="end" fill="#262626" textLength="6.60" lengthAdjust="spacingAndGlyphs" >15</text>
<rect x="35.20" y="308.64" width="4.80" height="6.06" fill="#c9c9cc"/>
<rect x="42.40" y="289.85" width="4.80" height="24.85" fill="#1b5a8e"/>
<line x1="44.80" y1="285.31" x2="44.80" y2="289.85" stroke="#333" stroke-width="0.7"/>
<line x1="43.80" y1="285.31" x2="45.80" y2="285.31" stroke="#333" stroke-width="0.6"/>
<line x1="41.50" y1="314.70" x2="41.50" y2="317.10" stroke="#252525" stroke-width="0.9"/>
<text x="41.00" y="244.70" font-size="7.4" text-anchor="middle" fill="#222" textLength="4.50" lengthAdjust="spacingAndGlyphs" >**</text>
<line x1="38.20" y1="244.50" x2="43.80" y2="244.50" stroke="#666" stroke-width="0.9"/>
<rect x="55.90" y="308.64" width="4.80" height="6.06" fill="#c9c9cc"/>
<rect x="63.10" y="286.82" width="4.80" height="27.88" fill="#1b5a8e"/>
<line x1="65.50" y1="279.85" x2="65.50" y2="286.82" stroke="#333" stroke-width="0.7"/>
<line x1="64.50" y1="279.85" x2="66.50" y2="279.85" stroke="#333" stroke-width="0.6"/>
<line x1="61.50" y1="314.70" x2="61.50" y2="317.10" stroke="#252525" stroke-width="0.9"/>
<text x="61.70" y="244.70" font-size="7.4" text-anchor="middle" fill="#222" textLength="2.25" lengthAdjust="spacingAndGlyphs" >*</text>
<line x1="58.90" y1="244.50" x2="64.50" y2="244.50" stroke="#666" stroke-width="0.9"/>
<rect x="76.70" y="308.64" width="4.80" height="6.06" fill="#c9c9cc"/>
<rect x="83.90" y="268.04" width="4.80" height="46.66" fill="#1b5a8e"/>
<line x1="86.30" y1="255.01" x2="86.30" y2="268.04" stroke="#333" stroke-width="0.7"/>
<line x1="85.30" y1="255.01" x2="87.30" y2="255.01" stroke="#333" stroke-width="0.6"/>
<line x1="82.50" y1="314.70" x2="82.50" y2="317.10" stroke="#252525" stroke-width="0.9"/>
<text x="82.50" y="244.70" font-size="7.4" text-anchor="middle" fill="#222" textLength="2.25" lengthAdjust="spacingAndGlyphs" >*</text>
<line x1="79.70" y1="244.50" x2="85.30" y2="244.50" stroke="#666" stroke-width="0.9"/>
<text x="41.00" y="326.60" font-size="6.6" text-anchor="middle" fill="#222" font-style="italic" textLength="11.50" lengthAdjust="spacingAndGlyphs" >TTN</text>
<text x="62.70" y="326.60" font-size="6.6" text-anchor="middle" fill="#222" font-style="italic" textLength="14.60" lengthAdjust="spacingAndGlyphs" >MME</text>
<text x="83.50" y="326.60" font-size="6.6" text-anchor="middle" fill="#222" font-style="italic" textLength="19.00" lengthAdjust="spacingAndGlyphs" >APAF1</text>
<text x="13.20" y="268.30" font-size="7.8" text-anchor="middle" fill="#1a1a1a" textLength="92.00" lengthAdjust="spacingAndGlyphs" transform="rotate(-90 13.20 268.30)" stroke="#1a1a1a" stroke-width="0.22">Normalized expression signal (TSGs)</text>
<text x="109.50" y="212.90" font-size="11.8" text-anchor="start" fill="#111" font-weight="bold" >D</text>
<line x1="141.50" y1="222.10" x2="141.50" y2="315.50" stroke="#252525" stroke-width="1.1"/>
<line x1="140.80" y1="315.50" x2="193.00" y2="315.50" stroke="#252525" stroke-width="1.1"/>
<line x1="138.50" y1="315.50" x2="141.30" y2="315.50" stroke="#252525" stroke-width="0.9"/>
<text x="136.30" y="317.10" font-size="6.2" text-anchor="end" fill="#262626" textLength="3.60" lengthAdjust="spacingAndGlyphs" >0</text>
<line x1="138.50" y1="292.50" x2="141.30" y2="292.50" stroke="#252525" stroke-width="0.9"/>
<text x="136.30" y="294.50" font-size="6.2" text-anchor="end" fill="#262626" textLength="3.60" lengthAdjust="spacingAndGlyphs" >2</text>
<line x1="138.50" y1="269.50" x2="141.30" y2="269.50" stroke="#252525" stroke-width="0.9"/>
<text x="136.30" y="271.90" font-size="6.2" text-anchor="end" fill="#262626" textLength="3.60" lengthAdjust="spacingAndGlyphs" >4</text>
<line x1="138.50" y1="247.50" x2="141.30" y2="247.50" stroke="#252525" stroke-width="0.9"/>
<text x="136.30" y="249.30" font-size="6.2" text-anchor="end" fill="#262626" textLength="3.60" lengthAdjust="spacingAndGlyphs" >6</text>
<line x1="138.50" y1="224.50" x2="141.30" y2="224.50" stroke="#252525" stroke-width="0.9"/>
<text x="136.30" y="226.70" font-size="6.2" text-anchor="end" fill="#262626" textLength="3.60" lengthAdjust="spacingAndGlyphs" >8</text>
<rect x="149.70" y="244.04" width="14.40" height="70.96" fill="#b8b9be"/>
<rect x="171.70" y="295.00" width="14.60" height="20.00" fill="#2aa7df"/>
<line x1="156.90" y1="243.13" x2="156.90" y2="244.94" stroke="#444" stroke-width="0.75"/>
<line x1="155.30" y1="243.13" x2="158.50" y2="243.13" stroke="#444" stroke-width="0.75"/>
<line x1="155.30" y1="244.94" x2="158.50" y2="244.94" stroke="#444" stroke-width="0.75"/>
<line x1="178.90" y1="284.26" x2="178.90" y2="305.73" stroke="#2a4860" stroke-width="0.75"/>
<line x1="177.30" y1="284.26" x2="180.50" y2="284.26" stroke="#2a4860" stroke-width="0.75"/>
<line x1="177.30" y1="305.73" x2="180.50" y2="305.73" stroke="#2a4860" stroke-width="0.75"/>
<line x1="156.50" y1="315.00" x2="156.50" y2="317.40" stroke="#252525" stroke-width="0.9"/>
<line x1="178.50" y1="315.00" x2="178.50" y2="317.40" stroke="#252525" stroke-width="0.9"/>
<text x="156.90" y="326.40" font-size="6.8" text-anchor="middle" fill="#333" textLength="12.00" lengthAdjust="spacingAndGlyphs" >tPC</text>
<text x="178.90" y="326.40" font-size="6.8" text-anchor="middle" fill="#333" textLength="10.80" lengthAdjust="spacingAndGlyphs" >MM</text>
<line x1="156.50" y1="225.50" x2="178.50" y2="225.50" stroke="#8a8a8a" stroke-width="1.0"/>
<text x="167.50" y="225.90" font-size="7.4" text-anchor="middle" fill="#222" textLength="4.50" lengthAdjust="spacingAndGlyphs" >**</text>
<text x="115.80" y="268.00" font-size="7.8" text-anchor="middle" fill="#1a1a1a" textLength="74.00" lengthAdjust="spacingAndGlyphs" transform="rotate(-90 115.80 268.00)" stroke="#1a1a1a" stroke-width="0.22">Normalized expression signal</text>
<text x="126.90" y="268.00" font-size="7.8" text-anchor="middle" fill="#1a1a1a" font-weight="normal" transform="rotate(-90 126.90 268.00)" textLength="38.4" lengthAdjust="spacingAndGlyphs" stroke="#1a1a1a" stroke-width="0.22"><tspan font-style="italic">TTN</tspan> (Blueprint)</text>
<text x="209.50" y="212.90" font-size="11.8" text-anchor="start" fill="#111" font-weight="bold" >E</text>
<line x1="244.50" y1="221.70" x2="244.50" y2="315.50" stroke="#252525" stroke-width="1.1"/>
<line x1="243.90" y1="315.50" x2="296.30" y2="315.50" stroke="#252525" stroke-width="1.1"/>
<line x1="241.60" y1="315.50" x2="244.40" y2="315.50" stroke="#252525" stroke-width="0.9"/>
<text x="239.40" y="317.10" font-size="6.2" text-anchor="end" fill="#262626" textLength="6.60" lengthAdjust="spacingAndGlyphs" >−2</text>
<line x1="241.60" y1="296.50" x2="244.40" y2="296.50" stroke="#252525" stroke-width="0.9"/>
<text x="239.40" y="298.94" font-size="6.2" text-anchor="end" fill="#262626" textLength="3.60" lengthAdjust="spacingAndGlyphs" >0</text>
<line x1="241.60" y1="278.50" x2="244.40" y2="278.50" stroke="#252525" stroke-width="0.9"/>
<text x="239.40" y="280.78" font-size="6.2" text-anchor="end" fill="#262626" textLength="3.60" lengthAdjust="spacingAndGlyphs" >2</text>
<line x1="241.60" y1="260.50" x2="244.40" y2="260.50" stroke="#252525" stroke-width="0.9"/>
<text x="239.40" y="262.62" font-size="6.2" text-anchor="end" fill="#262626" textLength="3.60" lengthAdjust="spacingAndGlyphs" >4</text>
<line x1="241.60" y1="242.50" x2="244.40" y2="242.50" stroke="#252525" stroke-width="0.9"/>
<text x="239.40" y="244.46" font-size="6.2" text-anchor="end" fill="#262626" textLength="3.60" lengthAdjust="spacingAndGlyphs" >6</text>
<line x1="241.60" y1="224.50" x2="244.40" y2="224.50" stroke="#252525" stroke-width="0.9"/>
<text x="239.40" y="226.30" font-size="6.2" text-anchor="end" fill="#262626" textLength="3.60" lengthAdjust="spacingAndGlyphs" >8</text>
<rect x="252.80" y="231.46" width="14.40" height="65.38" fill="#b8b9be"/>
<rect x="274.80" y="296.84" width="14.60" height="13.17" fill="#2aa7df"/>
<line x1="260.00" y1="228.29" x2="260.00" y2="234.64" stroke="#444" stroke-width="0.75"/>
<line x1="258.40" y1="228.29" x2="261.60" y2="228.29" stroke="#444" stroke-width="0.75"/>
<line x1="258.40" y1="234.64" x2="261.60" y2="234.64" stroke="#444" stroke-width="0.75"/>
<line x1="282.00" y1="305.92" x2="282.00" y2="314.09" stroke="#2a4860" stroke-width="0.75"/>
<line x1="280.40" y1="305.92" x2="283.60" y2="305.92" stroke="#2a4860" stroke-width="0.75"/>
<line x1="280.40" y1="314.09" x2="283.60" y2="314.09" stroke="#2a4860" stroke-width="0.75"/>
<line x1="244.40" y1="296.50" x2="296.30" y2="296.50" stroke="#606060" stroke-width="1.2"/>
<line x1="260.50" y1="315.00" x2="260.50" y2="317.40" stroke="#252525" stroke-width="0.9"/>
<line x1="282.50" y1="315.00" x2="282.50" y2="317.40" stroke="#252525" stroke-width="0.9"/>
<text x="260.00" y="326.40" font-size="6.8" text-anchor="middle" fill="#333" textLength="12.00" lengthAdjust="spacingAndGlyphs" >tPC</text>
<text x="282.00" y="326.40" font-size="6.8" text-anchor="middle" fill="#333" textLength="10.80" lengthAdjust="spacingAndGlyphs" >MM</text>
<line x1="259.60" y1="224.50" x2="281.60" y2="224.50" stroke="#8a8a8a" stroke-width="1.0"/>
<text x="270.60" y="225.50" font-size="7.4" text-anchor="middle" fill="#222" textLength="9.00" lengthAdjust="spacingAndGlyphs" >****</text>
<text x="215.00" y="268.00" font-size="7.8" text-anchor="middle" fill="#1a1a1a" textLength="74.00" lengthAdjust="spacingAndGlyphs" transform="rotate(-90 215.00 268.00)" stroke="#1a1a1a" stroke-width="0.22">Normalized expression signal</text>
<text x="226.10" y="268.00" font-size="7.8" text-anchor="middle" fill="#1a1a1a" font-weight="normal" transform="rotate(-90 226.10 268.00)" textLength="39" lengthAdjust="spacingAndGlyphs" stroke="#1a1a1a" stroke-width="0.22"><tspan font-style="italic">MME</tspan> (Blueprint)</text>
<text x="312.70" y="212.90" font-size="11.8" text-anchor="start" fill="#111" font-weight="bold" >F</text>
<line x1="343.50" y1="221.70" x2="343.50" y2="315.50" stroke="#252525" stroke-width="1.1"/>
<line x1="343.10" y1="315.50" x2="396.30" y2="315.50" stroke="#252525" stroke-width="1.1"/>
<line x1="340.80" y1="315.50" x2="343.60" y2="315.50" stroke="#252525" stroke-width="0.9"/>
<text x="338.60" y="317.10" font-size="6.2" text-anchor="end" fill="#262626" textLength="3.60" lengthAdjust="spacingAndGlyphs" >0</text>
<line x1="340.80" y1="284.50" x2="343.60" y2="284.50" stroke="#252525" stroke-width="0.9"/>
<text x="338.60" y="286.83" font-size="6.2" text-anchor="end" fill="#262626" textLength="3.60" lengthAdjust="spacingAndGlyphs" >2</text>
<line x1="340.80" y1="254.50" x2="343.60" y2="254.50" stroke="#252525" stroke-width="0.9"/>
<text x="338.60" y="256.57" font-size="6.2" text-anchor="end" fill="#262626" textLength="3.60" lengthAdjust="spacingAndGlyphs" >4</text>
<line x1="340.80" y1="224.50" x2="343.60" y2="224.50" stroke="#252525" stroke-width="0.9"/>
<text x="338.60" y="226.30" font-size="6.2" text-anchor="end" fill="#262626" textLength="3.60" lengthAdjust="spacingAndGlyphs" >6</text>
<rect x="352.00" y="239.79" width="14.40" height="75.21" fill="#b8b9be"/>
<rect x="374.00" y="275.65" width="14.60" height="39.35" fill="#2aa7df"/>
<line x1="359.20" y1="237.52" x2="359.20" y2="242.06" stroke="#444" stroke-width="0.75"/>
<line x1="357.60" y1="237.52" x2="360.80" y2="237.52" stroke="#444" stroke-width="0.75"/>
<line x1="357.60" y1="242.06" x2="360.80" y2="242.06" stroke="#444" stroke-width="0.75"/>
<line x1="381.20" y1="268.84" x2="381.20" y2="282.46" stroke="#2a4860" stroke-width="0.75"/>
<line x1="379.60" y1="268.84" x2="382.80" y2="268.84" stroke="#2a4860" stroke-width="0.75"/>
<line x1="379.60" y1="282.46" x2="382.80" y2="282.46" stroke="#2a4860" stroke-width="0.75"/>
<line x1="359.50" y1="315.00" x2="359.50" y2="317.40" stroke="#252525" stroke-width="0.9"/>
<line x1="381.50" y1="315.00" x2="381.50" y2="317.40" stroke="#252525" stroke-width="0.9"/>
<text x="359.20" y="326.40" font-size="6.8" text-anchor="middle" fill="#333" textLength="12.00" lengthAdjust="spacingAndGlyphs" >tPC</text>
<text x="381.20" y="326.40" font-size="6.8" text-anchor="middle" fill="#333" textLength="10.80" lengthAdjust="spacingAndGlyphs" >MM</text>
<line x1="358.80" y1="224.50" x2="380.80" y2="224.50" stroke="#8a8a8a" stroke-width="1.0"/>
<text x="369.80" y="225.50" font-size="7.4" text-anchor="middle" fill="#222" textLength="4.50" lengthAdjust="spacingAndGlyphs" >**</text>
<text x="318.80" y="268.00" font-size="7.8" text-anchor="middle" fill="#1a1a1a" textLength="74.00" lengthAdjust="spacingAndGlyphs" transform="rotate(-90 318.80 268.00)" stroke="#1a1a1a" stroke-width="0.22">Normalized expression signal</text>
<text x="330.00" y="268.00" font-size="7.8" text-anchor="middle" fill="#1a1a1a" font-weight="normal" transform="rotate(-90 330.00 268.00)" textLength="45" lengthAdjust="spacingAndGlyphs" stroke="#1a1a1a" stroke-width="0.22"><tspan font-style="italic">APAF1</tspan> (Blueprint)</text>
<text x="415.00" y="212.90" font-size="11.8" text-anchor="start" fill="#111" font-weight="bold" >G</text>
<line x1="446.50" y1="221.70" x2="446.50" y2="315.50" stroke="#252525" stroke-width="1.1"/>
<line x1="445.80" y1="315.50" x2="498.00" y2="315.50" stroke="#252525" stroke-width="1.1"/>
<line x1="443.50" y1="315.50" x2="446.30" y2="315.50" stroke="#252525" stroke-width="0.9"/>
<text x="441.30" y="317.10" font-size="6.2" text-anchor="end" fill="#262626" textLength="3.60" lengthAdjust="spacingAndGlyphs" >0</text>
<line x1="443.50" y1="284.50" x2="446.30" y2="284.50" stroke="#252525" stroke-width="0.9"/>
<text x="441.30" y="286.83" font-size="6.2" text-anchor="end" fill="#262626" textLength="3.60" lengthAdjust="spacingAndGlyphs" >2</text>
<line x1="443.50" y1="254.50" x2="446.30" y2="254.50" stroke="#252525" stroke-width="0.9"/>
<text x="441.30" y="256.57" font-size="6.2" text-anchor="end" fill="#262626" textLength="3.60" lengthAdjust="spacingAndGlyphs" >4</text>
<line x1="443.50" y1="224.50" x2="446.30" y2="224.50" stroke="#252525" stroke-width="0.9"/>
<text x="441.30" y="226.30" font-size="6.2" text-anchor="end" fill="#262626" textLength="3.60" lengthAdjust="spacingAndGlyphs" >6</text>
<rect x="454.70" y="232.83" width="14.40" height="82.17" fill="#b8b9be"/>
<rect x="476.70" y="264.91" width="14.60" height="50.09" fill="#2aa7df"/>
<line x1="461.90" y1="230.25" x2="461.90" y2="235.40" stroke="#444" stroke-width="0.75"/>
<line x1="460.30" y1="230.25" x2="463.50" y2="230.25" stroke="#444" stroke-width="0.75"/>
<line x1="460.30" y1="235.40" x2="463.50" y2="235.40" stroke="#444" stroke-width="0.75"/>
<line x1="483.90" y1="258.86" x2="483.90" y2="270.96" stroke="#2a4860" stroke-width="0.75"/>
<line x1="482.30" y1="258.86" x2="485.50" y2="258.86" stroke="#2a4860" stroke-width="0.75"/>
<line x1="482.30" y1="270.96" x2="485.50" y2="270.96" stroke="#2a4860" stroke-width="0.75"/>
<line x1="461.50" y1="315.00" x2="461.50" y2="317.40" stroke="#252525" stroke-width="0.9"/>
<line x1="483.50" y1="315.00" x2="483.50" y2="317.40" stroke="#252525" stroke-width="0.9"/>
<text x="461.90" y="326.40" font-size="6.8" text-anchor="middle" fill="#333" textLength="12.00" lengthAdjust="spacingAndGlyphs" >tPC</text>
<text x="483.90" y="326.40" font-size="6.8" text-anchor="middle" fill="#333" textLength="10.80" lengthAdjust="spacingAndGlyphs" >MM</text>
<line x1="461.50" y1="224.50" x2="483.50" y2="224.50" stroke="#8a8a8a" stroke-width="1.0"/>
<text x="472.50" y="225.50" font-size="7.4" text-anchor="middle" fill="#222" textLength="4.50" lengthAdjust="spacingAndGlyphs" >**</text>
<text x="421.50" y="268.00" font-size="7.8" text-anchor="middle" fill="#1a1a1a" textLength="74.00" lengthAdjust="spacingAndGlyphs" transform="rotate(-90 421.50 268.00)" stroke="#1a1a1a" stroke-width="0.22">Normalized expression signal</text>
<text x="432.20" y="268.00" font-size="7.8" text-anchor="middle" fill="#1a1a1a" font-weight="normal" transform="rotate(-90 432.20 268.00)" textLength="42" lengthAdjust="spacingAndGlyphs" stroke="#1a1a1a" stroke-width="0.22"><tspan font-style="italic">BLM</tspan> (Blueprint)</text>
<text x="7.40" y="352.50" font-size="11.8" text-anchor="start" fill="#111" font-weight="bold" >H</text>
<line x1="42.50" y1="361.80" x2="42.50" y2="455.40" stroke="#252525" stroke-width="1.1"/>
<line x1="41.50" y1="454.50" x2="94.60" y2="454.50" stroke="#252525" stroke-width="1.1"/>
<line x1="39.20" y1="454.50" x2="42.00" y2="454.50" stroke="#252525" stroke-width="0.9"/>
<text x="37.00" y="457.00" font-size="6.2" text-anchor="end" fill="#262626" textLength="6.60" lengthAdjust="spacingAndGlyphs" >−4</text>
<line x1="39.20" y1="432.50" x2="42.00" y2="432.50" stroke="#252525" stroke-width="0.9"/>
<text x="37.00" y="434.35" font-size="6.2" text-anchor="end" fill="#262626" textLength="6.60" lengthAdjust="spacingAndGlyphs" >−2</text>
<line x1="39.20" y1="409.50" x2="42.00" y2="409.50" stroke="#252525" stroke-width="0.9"/>
<text x="37.00" y="411.70" font-size="6.2" text-anchor="end" fill="#262626" textLength="3.60" lengthAdjust="spacingAndGlyphs" >0</text>
<line x1="39.20" y1="386.50" x2="42.00" y2="386.50" stroke="#252525" stroke-width="0.9"/>
<text x="37.00" y="389.05" font-size="6.2" text-anchor="end" fill="#262626" textLength="3.60" lengthAdjust="spacingAndGlyphs" >2</text>
<line x1="39.20" y1="364.50" x2="42.00" y2="364.50" stroke="#252525" stroke-width="0.9"/>
<text x="37.00" y="366.40" font-size="6.2" text-anchor="end" fill="#262626" textLength="3.60" lengthAdjust="spacingAndGlyphs" >4</text>
<rect x="50.40" y="379.59" width="14.40" height="30.01" fill="#b8b9be"/>
<rect x="72.40" y="409.60" width="14.60" height="9.06" fill="#2aa7df"/>
<line x1="57.60" y1="376.76" x2="57.60" y2="382.42" stroke="#444" stroke-width="0.75"/>
<line x1="56.00" y1="376.76" x2="59.20" y2="376.76" stroke="#444" stroke-width="0.75"/>
<line x1="56.00" y1="382.42" x2="59.20" y2="382.42" stroke="#444" stroke-width="0.75"/>
<line x1="79.60" y1="405.07" x2="79.60" y2="432.25" stroke="#2a4860" stroke-width="0.75"/>
<line x1="78.00" y1="405.07" x2="81.20" y2="405.07" stroke="#2a4860" stroke-width="0.75"/>
<line x1="78.00" y1="432.25" x2="81.20" y2="432.25" stroke="#2a4860" stroke-width="0.75"/>
<line x1="42.00" y1="409.50" x2="94.60" y2="409.50" stroke="#606060" stroke-width="1.2"/>
<line x1="57.50" y1="454.90" x2="57.50" y2="457.30" stroke="#252525" stroke-width="0.9"/>
<line x1="79.50" y1="454.90" x2="79.50" y2="457.30" stroke="#252525" stroke-width="0.9"/>
<text x="57.60" y="467.40" font-size="6.8" text-anchor="middle" fill="#333" textLength="12.00" lengthAdjust="spacingAndGlyphs" >tPC</text>
<text x="79.60" y="467.40" font-size="6.8" text-anchor="middle" fill="#333" textLength="10.80" lengthAdjust="spacingAndGlyphs" >MM</text>
<line x1="57.20" y1="364.50" x2="79.20" y2="364.50" stroke="#8a8a8a" stroke-width="1.0"/>
<text x="68.20" y="365.60" font-size="7.4" text-anchor="middle" fill="#222" textLength="2.25" lengthAdjust="spacingAndGlyphs" >*</text>
<text x="14.80" y="408.20" font-size="7.8" text-anchor="middle" fill="#1a1a1a" textLength="74.00" lengthAdjust="spacingAndGlyphs" transform="rotate(-90 14.80 408.20)" stroke="#1a1a1a" stroke-width="0.22">Normalized expression signal</text>
<text x="24.60" y="408.20" font-size="7.8" text-anchor="middle" fill="#1a1a1a" font-weight="normal" transform="rotate(-90 24.60 408.20)" textLength="44" lengthAdjust="spacingAndGlyphs" stroke="#1a1a1a" stroke-width="0.22"><tspan font-style="italic">LIMA1</tspan> (Blueprint)</text>
<text x="110.50" y="353.00" font-size="11.8" text-anchor="start" fill="#111" font-weight="bold" >I</text>
<text x="186.30" y="356.90" font-size="8.2" text-anchor="middle" fill="#333" font-style="italic" >TTN</text>
<line x1="138.50" y1="362.60" x2="138.50" y2="455.70" stroke="#252525" stroke-width="1.1"/>
<line x1="138.00" y1="455.50" x2="233.00" y2="455.50" stroke="#252525" stroke-width="1.1"/>
<line x1="135.70" y1="454.50" x2="138.50" y2="454.50" stroke="#252525" stroke-width="0.9"/>
<text x="132.50" y="457.30" font-size="6.0" text-anchor="end" fill="#262626" textLength="3.40" lengthAdjust="spacingAndGlyphs" >0</text>
<line x1="135.70" y1="436.50" x2="138.50" y2="436.50" stroke="#252525" stroke-width="0.9"/>
<text x="132.50" y="439.16" font-size="6.0" text-anchor="end" fill="#262626" textLength="6.80" lengthAdjust="spacingAndGlyphs" >20</text>
<line x1="135.70" y1="418.50" x2="138.50" y2="418.50" stroke="#252525" stroke-width="0.9"/>
<text x="132.50" y="421.02" font-size="6.0" text-anchor="end" fill="#262626" textLength="6.80" lengthAdjust="spacingAndGlyphs" >40</text>
<line x1="135.70" y1="400.50" x2="138.50" y2="400.50" stroke="#252525" stroke-width="0.9"/>
<text x="132.50" y="402.88" font-size="6.0" text-anchor="end" fill="#262626" textLength="6.80" lengthAdjust="spacingAndGlyphs" >60</text>
<line x1="135.70" y1="382.50" x2="138.50" y2="382.50" stroke="#252525" stroke-width="0.9"/>
<text x="132.50" y="384.74" font-size="6.0" text-anchor="end" fill="#262626" textLength="6.80" lengthAdjust="spacingAndGlyphs" >80</text>
<line x1="135.70" y1="364.50" x2="138.50" y2="364.50" stroke="#252525" stroke-width="0.9"/>
<text x="132.50" y="366.60" font-size="6.0" text-anchor="end" fill="#262626" textLength="10.20" lengthAdjust="spacingAndGlyphs" >100</text>
<line x1="138.50" y1="454.80" x2="138.50" y2="457.20" stroke="#252525" stroke-width="0.9"/>
<text x="138.50" y="466.70" font-size="6.6" text-anchor="middle" fill="#262626" textLength="3.60" lengthAdjust="spacingAndGlyphs" >0</text>
<line x1="177.50" y1="454.80" x2="177.50" y2="457.20" stroke="#252525" stroke-width="0.9"/>
<text x="177.60" y="466.70" font-size="6.6" text-anchor="middle" fill="#262626" textLength="11.20" lengthAdjust="spacingAndGlyphs" >500</text>
<line x1="216.50" y1="454.80" x2="216.50" y2="457.20" stroke="#252525" stroke-width="0.9"/>
<text x="216.70" y="466.70" font-size="6.6" text-anchor="middle" fill="#262626" textLength="14.50" lengthAdjust="spacingAndGlyphs" >1000</text>
<line x1="142.41" y1="454.80" x2="142.41" y2="456.40" stroke="#252525" stroke-width="0.7"/>
<line x1="146.32" y1="454.80" x2="146.32" y2="456.40" stroke="#252525" stroke-width="0.7"/>
<line x1="150.23" y1="454.80" x2="150.23" y2="456.40" stroke="#252525" stroke-width="0.7"/>
<line x1="154.14" y1="454.80" x2="154.14" y2="456.40" stroke="#252525" stroke-width="0.7"/>
<line x1="158.05" y1="454.80" x2="158.05" y2="456.40" stroke="#252525" stroke-width="0.7"/>
<line x1="161.96" y1="454.80" x2="161.96" y2="456.40" stroke="#252525" stroke-width="0.7"/>
<line x1="165.87" y1="454.80" x2="165.87" y2="456.40" stroke="#252525" stroke-width="0.7"/>
<line x1="169.78" y1="454.80" x2="169.78" y2="456.40" stroke="#252525" stroke-width="0.7"/>
<line x1="173.69" y1="454.80" x2="173.69" y2="456.40" stroke="#252525" stroke-width="0.7"/>
<line x1="181.51" y1="454.80" x2="181.51" y2="456.40" stroke="#252525" stroke-width="0.7"/>
<line x1="185.42" y1="454.80" x2="185.42" y2="456.40" stroke="#252525" stroke-width="0.7"/>
<line x1="189.33" y1="454.80" x2="189.33" y2="456.40" stroke="#252525" stroke-width="0.7"/>
<line x1="193.24" y1="454.80" x2="193.24" y2="456.40" stroke="#252525" stroke-width="0.7"/>
<line x1="197.15" y1="454.80" x2="197.15" y2="456.40" stroke="#252525" stroke-width="0.7"/>
<line x1="201.06" y1="454.80" x2="201.06" y2="456.40" stroke="#252525" stroke-width="0.7"/>
<line x1="204.97" y1="454.80" x2="204.97" y2="456.40" stroke="#252525" stroke-width="0.7"/>
<line x1="208.88" y1="454.80" x2="208.88" y2="456.40" stroke="#252525" stroke-width="0.7"/>
<line x1="212.79" y1="454.80" x2="212.79" y2="456.40" stroke="#252525" stroke-width="0.7"/>
<line x1="220.61" y1="454.80" x2="220.61" y2="456.40" stroke="#252525" stroke-width="0.7"/>
<line x1="224.52" y1="454.80" x2="224.52" y2="456.40" stroke="#252525" stroke-width="0.7"/>
<line x1="228.43" y1="454.80" x2="228.43" y2="456.40" stroke="#252525" stroke-width="0.7"/>
<polyline points="138.90,364.30 142.70,364.30 143.70,367.20 145.60,369.60 146.60,373.50 148.50,375.40 150.90,377.80 152.30,381.60 153.80,384.50 155.70,387.90 156.70,391.70 157.60,396.50 159.10,399.40 161.50,402.30 163.90,404.70 165.80,406.20 167.70,412.40 170.10,414.80 172.50,416.70 175.40,418.70 177.60,423.80 180.00,424.20 184.30,428.50 188.60,430.60 190.80,434.90 197.20,436.50 199.40,438.70 210.40,439.00 212.50,442.80 222.00,442.80" fill="none" stroke="#5cb2d4" stroke-width="1.15" stroke-linejoin="round"/>
<polyline points="138.90,364.30 142.70,364.30 143.70,367.20 145.10,369.10 147.50,372.00 149.50,373.90 152.30,375.90 155.20,378.80 158.10,382.10 161.00,385.00 162.90,388.40 165.80,390.80 168.20,393.70 171.60,396.10 174.50,398.50 177.30,400.40 180.70,403.30 184.30,403.90 188.60,405.80 191.80,409.10 193.50,412.80 197.20,414.50 200.50,415.50 202.60,417.50 212.30,417.20 213.40,420.40 215.00,427.90 226.80,427.90" fill="none" stroke="#b83c5e" stroke-width="1.15" stroke-linejoin="round"/>
<text x="145.00" y="445.20" font-size="6.8" text-anchor="start" fill="#333" ><tspan font-style="italic">P</tspan> = .002</text>
<text x="186.06" y="478.60" font-size="9.6" text-anchor="middle" fill="#222" font-weight="bold" textLength="33.00" lengthAdjust="spacingAndGlyphs" >Days elapsed</text>
<text x="116.70" y="408.45" font-size="8.4" text-anchor="middle" fill="#222" textLength="50.00" lengthAdjust="spacingAndGlyphs" transform="rotate(-90 116.70 408.45)" stroke="#222" stroke-width="0.22">Overall survival (%)</text>
<line x1="137.80" y1="486.50" x2="150.10" y2="486.50" stroke="#5cb2d4" stroke-width="0.9"/>
<line x1="137.80" y1="496.50" x2="150.10" y2="496.50" stroke="#b83c5e" stroke-width="0.9"/>
<text x="152.20" y="488.90" font-size="6.4" fill="#333" textLength="65.6" lengthAdjust="spacingAndGlyphs">Low Expression (<tspan font-style="italic">n</tspan> = 79)</text>
<text x="152.20" y="498.60" font-size="6.4" fill="#333" textLength="70.8" lengthAdjust="spacingAndGlyphs">High Expression (<tspan font-style="italic">n</tspan> = 185)</text>
<text x="248.40" y="353.00" font-size="11.8" text-anchor="start" fill="#111" font-weight="bold" >J</text>
<text x="326.80" y="356.90" font-size="8.2" text-anchor="middle" fill="#333" font-style="italic" >MME</text>
<line x1="278.50" y1="362.60" x2="278.50" y2="455.70" stroke="#252525" stroke-width="1.1"/>
<line x1="278.10" y1="455.50" x2="372.00" y2="455.50" stroke="#252525" stroke-width="1.1"/>
<line x1="275.80" y1="454.50" x2="278.60" y2="454.50" stroke="#252525" stroke-width="0.9"/>
<text x="272.60" y="457.30" font-size="6.0" text-anchor="end" fill="#262626" textLength="3.40" lengthAdjust="spacingAndGlyphs" >0</text>
<line x1="275.80" y1="436.50" x2="278.60" y2="436.50" stroke="#252525" stroke-width="0.9"/>
<text x="272.60" y="439.16" font-size="6.0" text-anchor="end" fill="#262626" textLength="6.80" lengthAdjust="spacingAndGlyphs" >20</text>
<line x1="275.80" y1="418.50" x2="278.60" y2="418.50" stroke="#252525" stroke-width="0.9"/>
<text x="272.60" y="421.02" font-size="6.0" text-anchor="end" fill="#262626" textLength="6.80" lengthAdjust="spacingAndGlyphs" >40</text>
<line x1="275.80" y1="400.50" x2="278.60" y2="400.50" stroke="#252525" stroke-width="0.9"/>
<text x="272.60" y="402.88" font-size="6.0" text-anchor="end" fill="#262626" textLength="6.80" lengthAdjust="spacingAndGlyphs" >60</text>
<line x1="275.80" y1="382.50" x2="278.60" y2="382.50" stroke="#252525" stroke-width="0.9"/>
<text x="272.60" y="384.74" font-size="6.0" text-anchor="end" fill="#262626" textLength="6.80" lengthAdjust="spacingAndGlyphs" >80</text>
<line x1="275.80" y1="364.50" x2="278.60" y2="364.50" stroke="#252525" stroke-width="0.9"/>
<text x="272.60" y="366.60" font-size="6.0" text-anchor="end" fill="#262626" textLength="10.20" lengthAdjust="spacingAndGlyphs" >100</text>
<line x1="278.50" y1="454.80" x2="278.50" y2="457.20" stroke="#252525" stroke-width="0.9"/>
<text x="278.60" y="466.70" font-size="6.6" text-anchor="middle" fill="#262626" textLength="3.60" lengthAdjust="spacingAndGlyphs" >0</text>
<line x1="317.50" y1="454.80" x2="317.50" y2="457.20" stroke="#252525" stroke-width="0.9"/>
<text x="317.50" y="466.70" font-size="6.6" text-anchor="middle" fill="#262626" textLength="11.20" lengthAdjust="spacingAndGlyphs" >500</text>
<line x1="356.50" y1="454.80" x2="356.50" y2="457.20" stroke="#252525" stroke-width="0.9"/>
<text x="356.40" y="466.70" font-size="6.6" text-anchor="middle" fill="#262626" textLength="14.50" lengthAdjust="spacingAndGlyphs" >1000</text>
<line x1="282.49" y1="454.80" x2="282.49" y2="456.40" stroke="#252525" stroke-width="0.7"/>
<line x1="286.38" y1="454.80" x2="286.38" y2="456.40" stroke="#252525" stroke-width="0.7"/>
<line x1="290.27" y1="454.80" x2="290.27" y2="456.40" stroke="#252525" stroke-width="0.7"/>
<line x1="294.16" y1="454.80" x2="294.16" y2="456.40" stroke="#252525" stroke-width="0.7"/>
<line x1="298.05" y1="454.80" x2="298.05" y2="456.40" stroke="#252525" stroke-width="0.7"/>
<line x1="301.94" y1="454.80" x2="301.94" y2="456.40" stroke="#252525" stroke-width="0.7"/>
<line x1="305.83" y1="454.80" x2="305.83" y2="456.40" stroke="#252525" stroke-width="0.7"/>
<line x1="309.72" y1="454.80" x2="309.72" y2="456.40" stroke="#252525" stroke-width="0.7"/>
<line x1="313.61" y1="454.80" x2="313.61" y2="456.40" stroke="#252525" stroke-width="0.7"/>
<line x1="321.39" y1="454.80" x2="321.39" y2="456.40" stroke="#252525" stroke-width="0.7"/>
<line x1="325.28" y1="454.80" x2="325.28" y2="456.40" stroke="#252525" stroke-width="0.7"/>
<line x1="329.17" y1="454.80" x2="329.17" y2="456.40" stroke="#252525" stroke-width="0.7"/>
<line x1="333.06" y1="454.80" x2="333.06" y2="456.40" stroke="#252525" stroke-width="0.7"/>
<line x1="336.95" y1="454.80" x2="336.95" y2="456.40" stroke="#252525" stroke-width="0.7"/>
<line x1="340.84" y1="454.80" x2="340.84" y2="456.40" stroke="#252525" stroke-width="0.7"/>
<line x1="344.73" y1="454.80" x2="344.73" y2="456.40" stroke="#252525" stroke-width="0.7"/>
<line x1="348.62" y1="454.80" x2="348.62" y2="456.40" stroke="#252525" stroke-width="0.7"/>
<line x1="352.51" y1="454.80" x2="352.51" y2="456.40" stroke="#252525" stroke-width="0.7"/>
<line x1="360.29" y1="454.80" x2="360.29" y2="456.40" stroke="#252525" stroke-width="0.7"/>
<line x1="364.18" y1="454.80" x2="364.18" y2="456.40" stroke="#252525" stroke-width="0.7"/>
<line x1="368.07" y1="454.80" x2="368.07" y2="456.40" stroke="#252525" stroke-width="0.7"/>
<polyline points="279.80,364.30 282.30,364.30 283.70,367.70 286.60,372.50 289.50,375.40 292.30,378.30 295.20,381.60 296.70,384.50 298.10,388.80 301.00,393.70 302.90,400.40 304.80,403.30 305.80,409.00 306.80,412.90 309.70,415.80 311.60,418.70 314.00,421.00 316.10,424.80 317.10,430.10 320.00,434.20 323.50,439.00 327.10,439.00 330.60,444.30 335.30,444.30 336.50,447.20 351.80,447.20 353.00,450.70 357.70,450.70" fill="none" stroke="#5cb2d4" stroke-width="1.15" stroke-linejoin="round"/>
<polyline points="279.80,364.30 282.30,364.30 283.70,367.70 286.60,372.50 289.50,375.40 292.30,378.30 295.20,381.60 296.70,384.50 299.10,387.40 301.50,390.30 304.80,393.20 308.70,396.50 312.50,398.50 316.40,402.30 320.00,404.20 325.30,405.30 328.80,408.90 333.00,413.60 336.50,416.00 341.20,418.30 351.80,418.30 354.20,426.60 367.20,426.60" fill="none" stroke="#b83c5e" stroke-width="1.15" stroke-linejoin="round"/>
<text x="284.80" y="445.20" font-size="6.8" text-anchor="start" fill="#333" ><tspan font-style="italic">P</tspan> = .0027</text>
<text x="325.94" y="478.60" font-size="9.6" text-anchor="middle" fill="#222" font-weight="bold" textLength="33.00" lengthAdjust="spacingAndGlyphs" >Days elapsed</text>
<text x="256.80" y="408.45" font-size="8.4" text-anchor="middle" fill="#222" textLength="50.00" lengthAdjust="spacingAndGlyphs" transform="rotate(-90 256.80 408.45)" stroke="#222" stroke-width="0.22">Overall survival (%)</text>
<line x1="278.00" y1="486.50" x2="290.30" y2="486.50" stroke="#5cb2d4" stroke-width="0.9"/>
<line x1="278.00" y1="496.50" x2="290.30" y2="496.50" stroke="#b83c5e" stroke-width="0.9"/>
<text x="292.40" y="488.90" font-size="6.4" fill="#333" textLength="65.6" lengthAdjust="spacingAndGlyphs">Low Expression (<tspan font-style="italic">n</tspan> = 46)</text>
<text x="292.40" y="498.60" font-size="6.4" fill="#333" textLength="70.8" lengthAdjust="spacingAndGlyphs">High Expression (<tspan font-style="italic">n</tspan> = 218)</text>
<text x="387.00" y="353.00" font-size="11.8" text-anchor="start" fill="#111" font-weight="bold" >K</text>
<text x="465.70" y="356.90" font-size="8.2" text-anchor="middle" fill="#333" font-style="italic" >APAF1</text>
<line x1="418.50" y1="362.60" x2="418.50" y2="455.70" stroke="#252525" stroke-width="1.1"/>
<line x1="417.50" y1="455.50" x2="512.00" y2="455.50" stroke="#252525" stroke-width="1.1"/>
<line x1="415.20" y1="454.50" x2="418.00" y2="454.50" stroke="#252525" stroke-width="0.9"/>
<text x="412.00" y="457.30" font-size="6.0" text-anchor="end" fill="#262626" textLength="3.40" lengthAdjust="spacingAndGlyphs" >0</text>
<line x1="415.20" y1="436.50" x2="418.00" y2="436.50" stroke="#252525" stroke-width="0.9"/>
<text x="412.00" y="439.16" font-size="6.0" text-anchor="end" fill="#262626" textLength="6.80" lengthAdjust="spacingAndGlyphs" >20</text>
<line x1="415.20" y1="418.50" x2="418.00" y2="418.50" stroke="#252525" stroke-width="0.9"/>
<text x="412.00" y="421.02" font-size="6.0" text-anchor="end" fill="#262626" textLength="6.80" lengthAdjust="spacingAndGlyphs" >40</text>
<line x1="415.20" y1="400.50" x2="418.00" y2="400.50" stroke="#252525" stroke-width="0.9"/>
<text x="412.00" y="402.88" font-size="6.0" text-anchor="end" fill="#262626" textLength="6.80" lengthAdjust="spacingAndGlyphs" >60</text>
<line x1="415.20" y1="382.50" x2="418.00" y2="382.50" stroke="#252525" stroke-width="0.9"/>
<text x="412.00" y="384.74" font-size="6.0" text-anchor="end" fill="#262626" textLength="6.80" lengthAdjust="spacingAndGlyphs" >80</text>
<line x1="415.20" y1="364.50" x2="418.00" y2="364.50" stroke="#252525" stroke-width="0.9"/>
<text x="412.00" y="366.60" font-size="6.0" text-anchor="end" fill="#262626" textLength="10.20" lengthAdjust="spacingAndGlyphs" >100</text>
<line x1="418.50" y1="454.80" x2="418.50" y2="457.20" stroke="#252525" stroke-width="0.9"/>
<text x="418.00" y="466.70" font-size="6.6" text-anchor="middle" fill="#262626" textLength="3.60" lengthAdjust="spacingAndGlyphs" >0</text>
<line x1="457.50" y1="454.80" x2="457.50" y2="457.20" stroke="#252525" stroke-width="0.9"/>
<text x="457.10" y="466.70" font-size="6.6" text-anchor="middle" fill="#262626" textLength="11.20" lengthAdjust="spacingAndGlyphs" >500</text>
<line x1="496.50" y1="454.80" x2="496.50" y2="457.20" stroke="#252525" stroke-width="0.9"/>
<text x="496.20" y="466.70" font-size="6.6" text-anchor="middle" fill="#262626" textLength="14.50" lengthAdjust="spacingAndGlyphs" >1000</text>
<line x1="421.91" y1="454.80" x2="421.91" y2="456.40" stroke="#252525" stroke-width="0.7"/>
<line x1="425.82" y1="454.80" x2="425.82" y2="456.40" stroke="#252525" stroke-width="0.7"/>
<line x1="429.73" y1="454.80" x2="429.73" y2="456.40" stroke="#252525" stroke-width="0.7"/>
<line x1="433.64" y1="454.80" x2="433.64" y2="456.40" stroke="#252525" stroke-width="0.7"/>
<line x1="437.55" y1="454.80" x2="437.55" y2="456.40" stroke="#252525" stroke-width="0.7"/>
<line x1="441.46" y1="454.80" x2="441.46" y2="456.40" stroke="#252525" stroke-width="0.7"/>
<line x1="445.37" y1="454.80" x2="445.37" y2="456.40" stroke="#252525" stroke-width="0.7"/>
<line x1="449.28" y1="454.80" x2="449.28" y2="456.40" stroke="#252525" stroke-width="0.7"/>
<line x1="453.19" y1="454.80" x2="453.19" y2="456.40" stroke="#252525" stroke-width="0.7"/>
<line x1="461.01" y1="454.80" x2="461.01" y2="456.40" stroke="#252525" stroke-width="0.7"/>
<line x1="464.92" y1="454.80" x2="464.92" y2="456.40" stroke="#252525" stroke-width="0.7"/>
<line x1="468.83" y1="454.80" x2="468.83" y2="456.40" stroke="#252525" stroke-width="0.7"/>
<line x1="472.74" y1="454.80" x2="472.74" y2="456.40" stroke="#252525" stroke-width="0.7"/>
<line x1="476.65" y1="454.80" x2="476.65" y2="456.40" stroke="#252525" stroke-width="0.7"/>
<line x1="480.56" y1="454.80" x2="480.56" y2="456.40" stroke="#252525" stroke-width="0.7"/>
<line x1="484.47" y1="454.80" x2="484.47" y2="456.40" stroke="#252525" stroke-width="0.7"/>
<line x1="488.38" y1="454.80" x2="488.38" y2="456.40" stroke="#252525" stroke-width="0.7"/>
<line x1="492.29" y1="454.80" x2="492.29" y2="456.40" stroke="#252525" stroke-width="0.7"/>
<line x1="500.11" y1="454.80" x2="500.11" y2="456.40" stroke="#252525" stroke-width="0.7"/>
<line x1="504.02" y1="454.80" x2="504.02" y2="456.40" stroke="#252525" stroke-width="0.7"/>
<line x1="507.93" y1="454.80" x2="507.93" y2="456.40" stroke="#252525" stroke-width="0.7"/>
<polyline points="419.80,364.30 422.30,364.30 423.70,367.70 425.60,369.60 427.50,374.40 428.50,377.80 431.40,379.20 431.90,388.80 435.20,388.80 435.70,395.60 437.60,399.40 441.00,399.40 442.00,403.30 444.80,403.30 445.80,408.10 447.30,411.90 449.20,414.80 450.60,420.70 453.50,424.80 456.50,433.10 465.90,433.10 466.50,437.80 480.70,437.80 481.20,441.90 491.90,441.90 492.40,448.40 496.60,448.40" fill="none" stroke="#5cb2d4" stroke-width="1.15" stroke-linejoin="round"/>
<polyline points="419.80,364.30 422.30,364.30 423.70,367.70 425.60,369.60 427.50,374.40 429.00,374.40 431.40,376.30 434.30,379.20 437.20,384.50 440.00,388.80 442.90,392.70 445.80,395.60 448.20,398.50 451.60,399.90 454.50,402.30 457.30,405.20 461.80,408.30 465.30,408.90 468.90,411.80 472.40,416.50 475.90,419.50 479.50,421.30 491.30,421.30 494.20,429.50 506.00,429.50" fill="none" stroke="#b83c5e" stroke-width="1.15" stroke-linejoin="round"/>
<text x="422.00" y="445.20" font-size="6.8" text-anchor="start" fill="#333" ><tspan font-style="italic">P</tspan> = .0211</text>
<text x="465.57" y="478.60" font-size="9.6" text-anchor="middle" fill="#222" font-weight="bold" textLength="33.00" lengthAdjust="spacingAndGlyphs" >Days elapsed</text>
<text x="396.20" y="408.45" font-size="8.4" text-anchor="middle" fill="#222" textLength="50.00" lengthAdjust="spacingAndGlyphs" transform="rotate(-90 396.20 408.45)" stroke="#222" stroke-width="0.22">Overall survival (%)</text>
<line x1="417.80" y1="486.50" x2="430.10" y2="486.50" stroke="#5cb2d4" stroke-width="0.9"/>
<line x1="417.80" y1="496.50" x2="430.10" y2="496.50" stroke="#b83c5e" stroke-width="0.9"/>
<text x="432.20" y="488.90" font-size="6.4" fill="#333" textLength="65.6" lengthAdjust="spacingAndGlyphs">Low Expression (<tspan font-style="italic">n</tspan> = 26)</text>
<text x="432.20" y="498.60" font-size="6.4" fill="#333" textLength="70.8" lengthAdjust="spacingAndGlyphs">High Expression (<tspan font-style="italic">n</tspan> = 238)</text>
<text x="6.70" y="524.90" font-size="11.8" text-anchor="start" fill="#111" font-weight="bold" >L</text>
<text x="84.80" y="528.80" font-size="8.2" text-anchor="middle" fill="#333" font-style="italic" >BLM</text>
<line x1="37.50" y1="534.80" x2="37.50" y2="628.20" stroke="#252525" stroke-width="1.1"/>
<line x1="36.80" y1="627.50" x2="131.50" y2="627.50" stroke="#252525" stroke-width="1.1"/>
<line x1="34.50" y1="627.50" x2="37.30" y2="627.50" stroke="#252525" stroke-width="0.9"/>
<text x="31.30" y="629.80" font-size="6.0" text-anchor="end" fill="#262626" textLength="3.40" lengthAdjust="spacingAndGlyphs" >0</text>
<line x1="34.50" y1="609.50" x2="37.30" y2="609.50" stroke="#252525" stroke-width="0.9"/>
<text x="31.30" y="611.60" font-size="6.0" text-anchor="end" fill="#262626" textLength="6.80" lengthAdjust="spacingAndGlyphs" >20</text>
<line x1="34.50" y1="590.50" x2="37.30" y2="590.50" stroke="#252525" stroke-width="0.9"/>
<text x="31.30" y="593.40" font-size="6.0" text-anchor="end" fill="#262626" textLength="6.80" lengthAdjust="spacingAndGlyphs" >40</text>
<line x1="34.50" y1="572.50" x2="37.30" y2="572.50" stroke="#252525" stroke-width="0.9"/>
<text x="31.30" y="575.20" font-size="6.0" text-anchor="end" fill="#262626" textLength="6.80" lengthAdjust="spacingAndGlyphs" >60</text>
<line x1="34.50" y1="554.50" x2="37.30" y2="554.50" stroke="#252525" stroke-width="0.9"/>
<text x="31.30" y="557.00" font-size="6.0" text-anchor="end" fill="#262626" textLength="6.80" lengthAdjust="spacingAndGlyphs" >80</text>
<line x1="34.50" y1="536.50" x2="37.30" y2="536.50" stroke="#252525" stroke-width="0.9"/>
<text x="31.30" y="538.80" font-size="6.0" text-anchor="end" fill="#262626" textLength="10.20" lengthAdjust="spacingAndGlyphs" >100</text>
<line x1="37.50" y1="627.30" x2="37.50" y2="629.70" stroke="#252525" stroke-width="0.9"/>
<text x="37.30" y="639.20" font-size="6.6" text-anchor="middle" fill="#262626" textLength="3.60" lengthAdjust="spacingAndGlyphs" >0</text>
<line x1="76.50" y1="627.30" x2="76.50" y2="629.70" stroke="#252525" stroke-width="0.9"/>
<text x="76.20" y="639.20" font-size="6.6" text-anchor="middle" fill="#262626" textLength="11.20" lengthAdjust="spacingAndGlyphs" >500</text>
<line x1="115.50" y1="627.30" x2="115.50" y2="629.70" stroke="#252525" stroke-width="0.9"/>
<text x="115.10" y="639.20" font-size="6.6" text-anchor="middle" fill="#262626" textLength="14.50" lengthAdjust="spacingAndGlyphs" >1000</text>
<line x1="41.19" y1="627.30" x2="41.19" y2="628.90" stroke="#252525" stroke-width="0.7"/>
<line x1="45.08" y1="627.30" x2="45.08" y2="628.90" stroke="#252525" stroke-width="0.7"/>
<line x1="48.97" y1="627.30" x2="48.97" y2="628.90" stroke="#252525" stroke-width="0.7"/>
<line x1="52.86" y1="627.30" x2="52.86" y2="628.90" stroke="#252525" stroke-width="0.7"/>
<line x1="56.75" y1="627.30" x2="56.75" y2="628.90" stroke="#252525" stroke-width="0.7"/>
<line x1="60.64" y1="627.30" x2="60.64" y2="628.90" stroke="#252525" stroke-width="0.7"/>
<line x1="64.53" y1="627.30" x2="64.53" y2="628.90" stroke="#252525" stroke-width="0.7"/>
<line x1="68.42" y1="627.30" x2="68.42" y2="628.90" stroke="#252525" stroke-width="0.7"/>
<line x1="72.31" y1="627.30" x2="72.31" y2="628.90" stroke="#252525" stroke-width="0.7"/>
<line x1="80.09" y1="627.30" x2="80.09" y2="628.90" stroke="#252525" stroke-width="0.7"/>
<line x1="83.98" y1="627.30" x2="83.98" y2="628.90" stroke="#252525" stroke-width="0.7"/>
<line x1="87.87" y1="627.30" x2="87.87" y2="628.90" stroke="#252525" stroke-width="0.7"/>
<line x1="91.76" y1="627.30" x2="91.76" y2="628.90" stroke="#252525" stroke-width="0.7"/>
<line x1="95.65" y1="627.30" x2="95.65" y2="628.90" stroke="#252525" stroke-width="0.7"/>
<line x1="99.54" y1="627.30" x2="99.54" y2="628.90" stroke="#252525" stroke-width="0.7"/>
<line x1="103.43" y1="627.30" x2="103.43" y2="628.90" stroke="#252525" stroke-width="0.7"/>
<line x1="107.32" y1="627.30" x2="107.32" y2="628.90" stroke="#252525" stroke-width="0.7"/>
<line x1="111.21" y1="627.30" x2="111.21" y2="628.90" stroke="#252525" stroke-width="0.7"/>
<line x1="118.99" y1="627.30" x2="118.99" y2="628.90" stroke="#252525" stroke-width="0.7"/>
<line x1="122.88" y1="627.30" x2="122.88" y2="628.90" stroke="#252525" stroke-width="0.7"/>
<line x1="126.77" y1="627.30" x2="126.77" y2="628.90" stroke="#252525" stroke-width="0.7"/>
<polyline points="38.80,536.30 41.30,536.80 42.70,540.70 44.60,544.50 47.50,546.90 50.40,549.30 53.30,555.10 57.10,560.80 60.00,566.60 62.90,572.40 65.80,578.20 69.60,583.00 72.50,587.80 75.00,591.90 79.70,595.40 84.40,597.70 88.00,600.70 92.10,605.20 110.40,605.20 111.50,611.30 113.30,614.30 119.80,614.30" fill="none" stroke="#5cb2d4" stroke-width="1.15" stroke-linejoin="round"/>
<polyline points="38.80,536.30 41.30,536.80 42.70,540.70 44.60,544.50 47.50,546.90 50.40,549.30 54.20,552.20 57.10,558.00 60.00,562.30 63.40,562.80 66.70,567.10 71.50,568.10 75.00,570.00 79.70,571.80 82.10,573.00 85.60,574.80 89.10,578.30 92.70,582.40 96.80,586.00 100.90,590.10 110.40,589.80 112.10,590.10 112.70,594.20 125.70,594.20" fill="none" stroke="#b83c5e" stroke-width="1.15" stroke-linejoin="round"/>
<text x="40.00" y="617.70" font-size="6.8" text-anchor="start" fill="#333" ><tspan font-style="italic">P</tspan> = .0003</text>
<text x="84.63" y="651.10" font-size="9.6" text-anchor="middle" fill="#222" font-weight="bold" textLength="33.00" lengthAdjust="spacingAndGlyphs" >Days elapsed</text>
<text x="15.50" y="580.80" font-size="8.4" text-anchor="middle" fill="#222" textLength="50.00" lengthAdjust="spacingAndGlyphs" transform="rotate(-90 15.50 580.80)" stroke="#222" stroke-width="0.22">Overall survival (%)</text>
<line x1="35.50" y1="659.50" x2="47.80" y2="659.50" stroke="#5cb2d4" stroke-width="0.9"/>
<line x1="35.50" y1="668.50" x2="47.80" y2="668.50" stroke="#b83c5e" stroke-width="0.9"/>
<text x="49.90" y="661.40" font-size="6.4" fill="#333" textLength="70" lengthAdjust="spacingAndGlyphs">Low Expression (<tspan font-style="italic">n</tspan> = 111)</text>
<text x="49.90" y="671.10" font-size="6.4" fill="#333" textLength="70" lengthAdjust="spacingAndGlyphs">High Expression (<tspan font-style="italic">n</tspan> = 153)</text>
<text x="144.40" y="524.90" font-size="11.8" text-anchor="start" fill="#111" font-weight="bold" >M</text>
<text x="223.00" y="528.80" font-size="8.2" text-anchor="middle" fill="#333" font-style="italic" >LIMA1</text>
<line x1="176.50" y1="534.80" x2="176.50" y2="628.20" stroke="#252525" stroke-width="1.1"/>
<line x1="176.10" y1="627.50" x2="270.50" y2="627.50" stroke="#252525" stroke-width="1.1"/>
<line x1="173.80" y1="627.50" x2="176.60" y2="627.50" stroke="#252525" stroke-width="0.9"/>
<text x="170.60" y="629.80" font-size="6.0" text-anchor="end" fill="#262626" textLength="3.40" lengthAdjust="spacingAndGlyphs" >0</text>
<line x1="173.80" y1="609.50" x2="176.60" y2="609.50" stroke="#252525" stroke-width="0.9"/>
<text x="170.60" y="611.60" font-size="6.0" text-anchor="end" fill="#262626" textLength="6.80" lengthAdjust="spacingAndGlyphs" >20</text>
<line x1="173.80" y1="590.50" x2="176.60" y2="590.50" stroke="#252525" stroke-width="0.9"/>
<text x="170.60" y="593.40" font-size="6.0" text-anchor="end" fill="#262626" textLength="6.80" lengthAdjust="spacingAndGlyphs" >40</text>
<line x1="173.80" y1="572.50" x2="176.60" y2="572.50" stroke="#252525" stroke-width="0.9"/>
<text x="170.60" y="575.20" font-size="6.0" text-anchor="end" fill="#262626" textLength="6.80" lengthAdjust="spacingAndGlyphs" >60</text>
<line x1="173.80" y1="554.50" x2="176.60" y2="554.50" stroke="#252525" stroke-width="0.9"/>
<text x="170.60" y="557.00" font-size="6.0" text-anchor="end" fill="#262626" textLength="6.80" lengthAdjust="spacingAndGlyphs" >80</text>
<line x1="173.80" y1="536.50" x2="176.60" y2="536.50" stroke="#252525" stroke-width="0.9"/>
<text x="170.60" y="538.80" font-size="6.0" text-anchor="end" fill="#262626" textLength="10.20" lengthAdjust="spacingAndGlyphs" >100</text>
<line x1="176.50" y1="627.30" x2="176.50" y2="629.70" stroke="#252525" stroke-width="0.9"/>
<text x="176.60" y="639.20" font-size="6.6" text-anchor="middle" fill="#262626" textLength="3.60" lengthAdjust="spacingAndGlyphs" >0</text>
<line x1="215.50" y1="627.30" x2="215.50" y2="629.70" stroke="#252525" stroke-width="0.9"/>
<text x="215.80" y="639.20" font-size="6.6" text-anchor="middle" fill="#262626" textLength="11.20" lengthAdjust="spacingAndGlyphs" >500</text>
<line x1="255.50" y1="627.30" x2="255.50" y2="629.70" stroke="#252525" stroke-width="0.9"/>
<text x="255.00" y="639.20" font-size="6.6" text-anchor="middle" fill="#262626" textLength="14.50" lengthAdjust="spacingAndGlyphs" >1000</text>
<line x1="180.52" y1="627.30" x2="180.52" y2="628.90" stroke="#252525" stroke-width="0.7"/>
<line x1="184.44" y1="627.30" x2="184.44" y2="628.90" stroke="#252525" stroke-width="0.7"/>
<line x1="188.36" y1="627.30" x2="188.36" y2="628.90" stroke="#252525" stroke-width="0.7"/>
<line x1="192.28" y1="627.30" x2="192.28" y2="628.90" stroke="#252525" stroke-width="0.7"/>
<line x1="196.20" y1="627.30" x2="196.20" y2="628.90" stroke="#252525" stroke-width="0.7"/>
<line x1="200.12" y1="627.30" x2="200.12" y2="628.90" stroke="#252525" stroke-width="0.7"/>
<line x1="204.04" y1="627.30" x2="204.04" y2="628.90" stroke="#252525" stroke-width="0.7"/>
<line x1="207.96" y1="627.30" x2="207.96" y2="628.90" stroke="#252525" stroke-width="0.7"/>
<line x1="211.88" y1="627.30" x2="211.88" y2="628.90" stroke="#252525" stroke-width="0.7"/>
<line x1="219.72" y1="627.30" x2="219.72" y2="628.90" stroke="#252525" stroke-width="0.7"/>
<line x1="223.64" y1="627.30" x2="223.64" y2="628.90" stroke="#252525" stroke-width="0.7"/>
<line x1="227.56" y1="627.30" x2="227.56" y2="628.90" stroke="#252525" stroke-width="0.7"/>
<line x1="231.48" y1="627.30" x2="231.48" y2="628.90" stroke="#252525" stroke-width="0.7"/>
<line x1="235.40" y1="627.30" x2="235.40" y2="628.90" stroke="#252525" stroke-width="0.7"/>
<line x1="239.32" y1="627.30" x2="239.32" y2="628.90" stroke="#252525" stroke-width="0.7"/>
<line x1="243.24" y1="627.30" x2="243.24" y2="628.90" stroke="#252525" stroke-width="0.7"/>
<line x1="247.16" y1="627.30" x2="247.16" y2="628.90" stroke="#252525" stroke-width="0.7"/>
<line x1="251.08" y1="627.30" x2="251.08" y2="628.90" stroke="#252525" stroke-width="0.7"/>
<line x1="258.92" y1="627.30" x2="258.92" y2="628.90" stroke="#252525" stroke-width="0.7"/>
<line x1="262.84" y1="627.30" x2="262.84" y2="628.90" stroke="#252525" stroke-width="0.7"/>
<line x1="266.76" y1="627.30" x2="266.76" y2="628.90" stroke="#252525" stroke-width="0.7"/>
<polyline points="177.80,536.30 181.20,537.30 181.70,542.60 183.60,547.40 185.50,552.70 188.40,555.10 191.30,559.90 194.20,565.70 197.10,573.30 200.00,579.10 202.80,583.00 205.70,588.70 207.70,592.00 214.00,598.30 218.10,602.50 222.30,605.40 228.10,608.40 230.50,611.90 232.90,613.10 251.70,613.10 252.70,618.10 266.50,618.10" fill="none" stroke="#5cb2d4" stroke-width="1.15" stroke-linejoin="round"/>
<polyline points="177.80,536.30 181.20,537.30 183.60,539.70 185.50,541.10 189.40,543.10 193.20,546.40 196.10,550.30 200.00,555.10 204.80,558.40 206.70,560.40 210.50,561.80 214.40,565.20 219.90,570.00 224.60,571.20 228.10,574.20 232.90,579.50 237.60,583.60 241.10,586.00 252.30,586.00 253.50,590.10 254.70,595.40 266.50,595.40" fill="none" stroke="#b83c5e" stroke-width="1.15" stroke-linejoin="round"/>
<text x="182.00" y="617.70" font-size="6.8" text-anchor="start" fill="#333" ><tspan font-style="italic">P</tspan> &lt; .0001</text>
<text x="224.28" y="651.10" font-size="9.6" text-anchor="middle" fill="#222" font-weight="bold" textLength="33.00" lengthAdjust="spacingAndGlyphs" >Days elapsed</text>
<text x="154.80" y="580.80" font-size="8.4" text-anchor="middle" fill="#222" textLength="50.00" lengthAdjust="spacingAndGlyphs" transform="rotate(-90 154.80 580.80)" stroke="#222" stroke-width="0.22">Overall survival (%)</text>
<line x1="175.20" y1="659.50" x2="187.50" y2="659.50" stroke="#5cb2d4" stroke-width="0.9"/>
<line x1="175.20" y1="668.50" x2="187.50" y2="668.50" stroke="#b83c5e" stroke-width="0.9"/>
<text x="189.60" y="661.40" font-size="6.4" fill="#333" textLength="66.6" lengthAdjust="spacingAndGlyphs">Low Expression (<tspan font-style="italic">n</tspan> = 94)</text>
<text x="189.60" y="671.10" font-size="6.4" fill="#333" textLength="70.6" lengthAdjust="spacingAndGlyphs">High Expression (<tspan font-style="italic">n</tspan> = 170)</text>
<rect x="0.6" y="0.6" width="518.8" height="676.8" fill="none" stroke="#585858" stroke-width="1.4"/>
</svg>
</body></html>
